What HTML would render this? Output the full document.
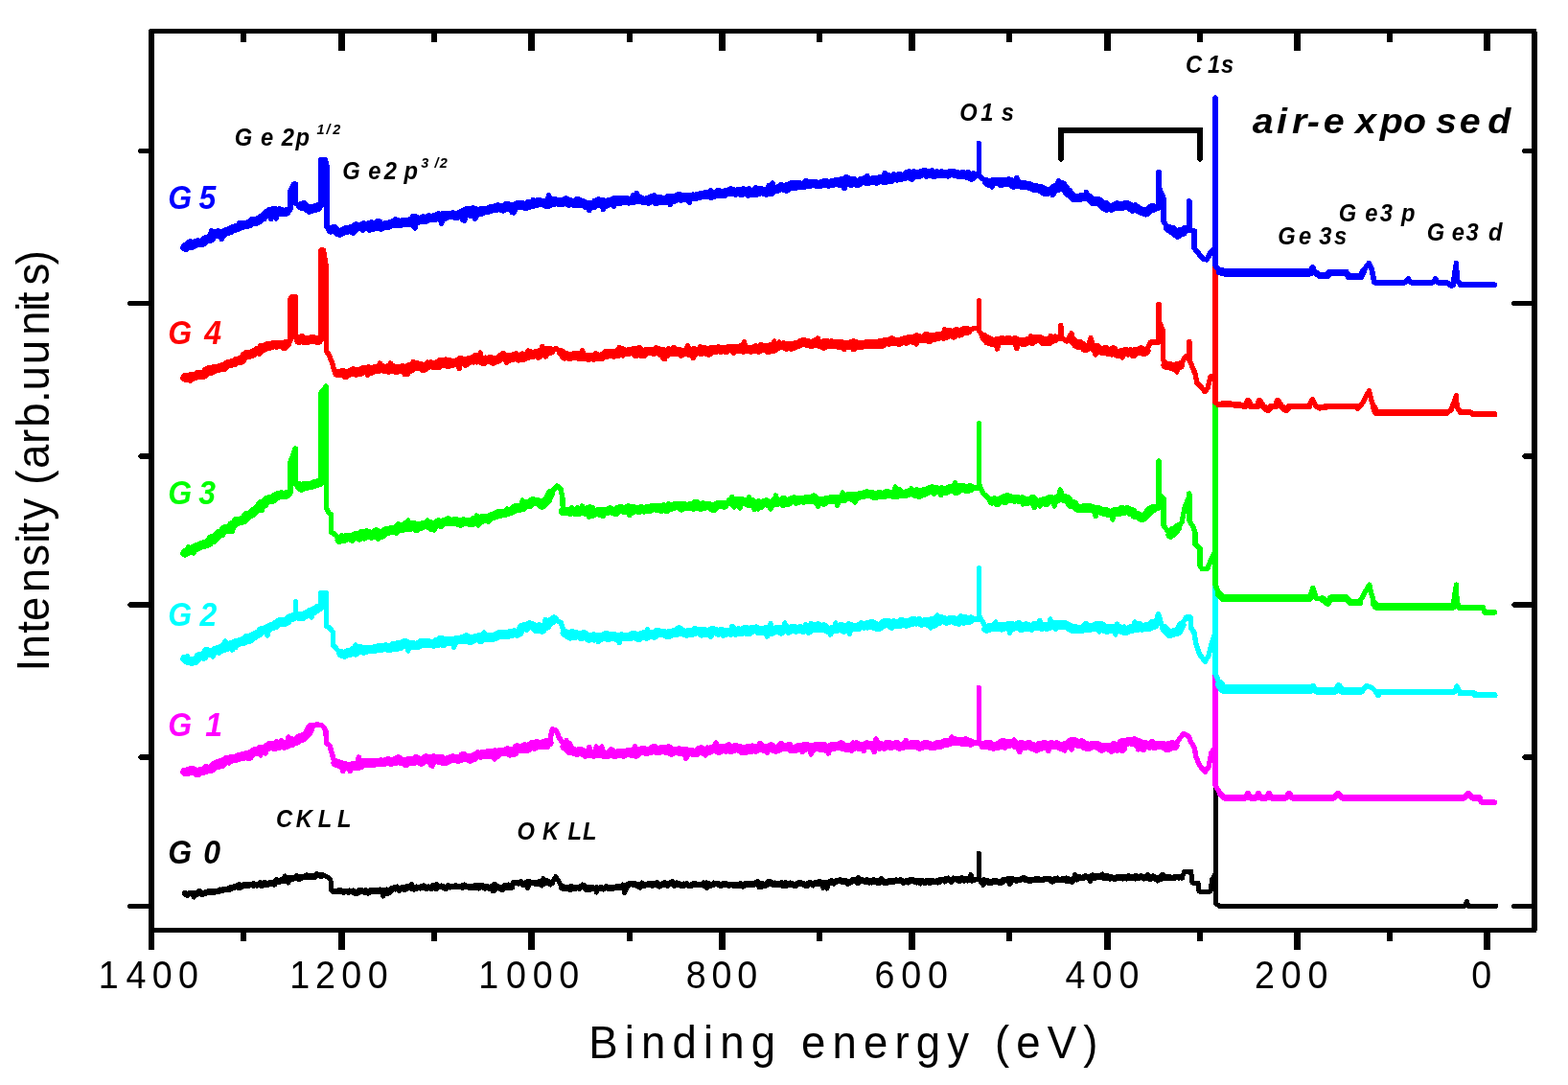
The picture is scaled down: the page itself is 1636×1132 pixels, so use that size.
<!DOCTYPE html>
<html><head><meta charset="utf-8"><title>XPS survey spectra</title>
<style>html,body{margin:0;padding:0;background:#fff;}svg{display:block;}</style>
</head><body>
<svg width="1636" height="1132" viewBox="0 0 1636 1132" shape-rendering="crispEdges">
<rect width="1636" height="1132" fill="#fff"/>
<polyline points="193.0,932.1 194.8,933.0 196.6,933.5 198.5,932.0 200.3,932.5 202.1,936.0 203.9,931.5 205.7,932.0 207.5,931.0 209.4,931.0 211.2,932.5 213.0,932.0 214.8,932.0 216.7,930.5 218.5,931.5 220.3,930.5 222.1,930.0 224.0,931.5 225.8,930.0 227.6,930.5 229.5,928.0 231.3,928.5 233.2,929.0 235.0,927.5 236.8,927.5 238.7,926.5 240.5,926.0 242.4,927.0 244.2,925.7 246.0,925.0 247.9,925.0 249.7,922.5 251.5,926.0 253.3,925.0 255.2,922.5 257.0,922.0 258.8,923.5 260.7,923.0 262.5,923.0 264.3,924.5 266.2,922.5 268.0,924.0 269.9,922.0 271.7,920.5 273.5,921.5 275.4,923.0 277.2,921.5 279.1,923.5 280.9,921.7 282.7,920.5 284.6,921.0 286.4,921.0 288.2,920.5 290.0,921.0 291.9,919.0 293.7,919.0 295.5,918.5 297.4,914.0 299.2,917.1 301.0,921.0 302.9,916.5 304.7,917.0 306.5,915.5 308.4,914.5 310.2,917.0 312.0,915.0 313.8,914.5 315.7,915.5 317.5,914.8 319.3,915.5 321.2,914.5 323.0,915.5 324.9,915.0 326.7,914.0 328.5,913.5 330.4,912.0 332.2,912.0 334.1,914.5 335.9,913.4 340.0,914.0 343.5,916.0 345.0,918.5 345.0,928.0 348.0,930.0 349.9,931.0 351.7,930.0 353.6,930.5 355.4,928.5 357.3,930.0 359.1,931.0 361.0,929.5 362.9,930.0 364.7,929.0 366.6,930.5 368.4,929.0 370.3,930.0 372.1,931.0 374.0,928.5 375.8,929.0 377.7,930.0 379.6,931.0 381.4,928.5 383.3,930.0 385.1,929.5 387.0,930.0 388.8,930.5 390.7,928.5 392.5,930.5 394.4,930.0 396.3,928.0 398.1,930.5 400.0,935.0 401.8,929.0 403.7,928.0 405.5,929.5 407.4,930.0 409.0,927.2 410.8,927.0 412.7,928.0 414.5,925.0 416.4,928.5 418.2,926.5 420.1,928.0 421.9,928.5 423.8,928.0 425.6,924.5 427.5,926.0 429.3,922.5 431.2,926.5 433.0,927.5 434.9,925.0 436.7,926.0 438.6,927.0 440.4,926.0 442.3,926.5 444.1,925.0 446.0,926.5 447.8,927.0 449.7,925.5 451.5,927.0 453.4,926.0 455.2,922.5 457.1,925.5 458.9,924.5 460.8,924.0 462.6,925.0 464.5,925.5 466.3,926.0 468.2,924.0 470.0,925.3 471.8,924.5 473.7,924.5 475.5,924.5 477.3,924.0 479.1,925.5 481.0,924.5 482.8,923.5 484.6,923.0 486.5,924.5 488.3,926.0 490.1,926.0 491.9,926.5 493.8,926.0 495.6,926.0 497.4,926.5 499.3,927.0 501.1,923.5 502.9,924.5 504.7,926.0 506.6,926.0 508.4,926.0 510.2,925.5 512.1,926.0 513.9,929.5 515.7,929.5 517.5,926.0 519.4,925.0 521.2,925.5 523.0,925.0 524.9,926.0 526.7,927.0 528.5,924.0 530.3,923.0 532.2,924.0 534.0,925.3 536.0,921.0 537.8,921.0 539.6,921.0 541.5,920.5 543.3,921.5 545.1,921.0 546.9,921.0 548.7,922.0 550.5,926.5 552.4,922.0 554.2,922.0 556.0,921.0 557.8,921.5 559.6,920.5 561.5,922.5 563.3,921.5 565.1,924.0 566.9,916.5 568.7,922.0 570.5,920.0 572.4,920.0 574.2,923.0 576.0,921.0 580.0,914.5 583.7,921.0 586.0,926.2 587.8,924.5 589.6,926.5 591.5,927.0 593.3,928.0 595.1,928.5 596.9,927.5 598.8,926.5 600.6,927.5 602.4,926.5 604.2,927.5 606.0,926.0 607.9,923.0 609.7,926.0 611.5,928.5 613.3,926.5 615.1,928.5 617.0,927.0 618.8,926.0 620.6,926.5 622.4,931.0 624.3,927.5 626.1,925.5 627.9,926.5 629.7,928.0 631.5,925.5 633.4,926.5 635.2,925.0 637.0,925.5 638.8,926.0 640.6,927.0 642.5,925.0 644.3,926.0 646.1,925.0 647.9,924.5 649.8,923.0 651.6,931.5 653.4,926.2 655.0,923.0 656.8,922.0 658.7,923.0 660.5,923.0 662.4,923.0 664.2,924.0 666.0,923.5 667.9,922.5 669.7,921.0 671.5,923.5 673.4,923.0 675.2,922.5 677.1,923.0 678.9,922.5 680.7,924.5 682.6,923.5 684.4,922.5 686.3,924.5 688.1,924.0 689.9,924.0 691.8,923.5 693.6,923.5 695.4,923.0 697.3,924.0 699.1,922.0 701.0,922.5 702.8,923.0 704.6,923.5 706.5,924.0 708.3,923.0 710.2,923.5 712.0,923.0 713.8,922.0 715.7,924.0 717.5,923.5 719.3,923.5 721.2,922.5 723.0,923.5 724.9,921.5 726.7,923.0 728.5,924.0 730.3,923.5 732.1,923.5 733.9,921.0 735.7,924.5 737.5,926.5 739.3,921.5 741.1,924.5 742.9,923.0 744.7,921.0 746.5,922.5 748.4,922.0 750.2,922.5 752.0,923.5 753.8,923.0 755.6,923.5 757.4,924.0 759.2,922.5 761.0,924.5 762.8,923.0 764.6,924.0 766.4,922.5 768.2,924.0 770.0,923.4 771.8,924.5 773.6,923.0 775.5,922.0 777.3,922.0 779.1,923.5 780.9,924.0 782.7,923.5 784.5,922.0 786.4,923.5 788.2,922.5 790.0,923.0 791.8,922.5 793.6,924.0 795.5,925.0 797.3,923.0 799.1,923.0 800.9,923.5 802.7,922.0 804.5,922.5 806.4,923.0 808.2,921.0 810.0,921.5 811.8,923.5 813.6,923.5 815.5,920.5 817.3,922.5 819.1,920.5 820.9,924.5 822.7,923.5 824.5,921.0 826.4,922.5 828.2,924.0 830.0,924.5 831.8,921.5 833.6,920.5 835.5,922.0 837.3,922.0 839.1,923.5 840.9,922.5 842.7,921.0 844.5,921.5 846.4,921.0 848.2,924.0 850.0,922.0 851.8,921.5 853.6,921.5 855.5,922.5 857.3,920.5 859.1,926.5 860.9,921.5 862.7,927.0 864.5,922.0 866.4,922.0 868.2,920.0 870.0,921.4 872.0,919.6 873.8,919.5 875.6,919.5 877.4,919.5 879.2,920.5 881.0,920.0 882.8,920.0 884.6,920.5 886.4,920.5 888.2,920.5 890.0,917.5 891.8,920.0 893.6,920.0 895.4,915.5 897.2,919.5 899.0,918.0 900.8,920.0 902.6,920.0 904.4,920.0 906.2,918.5 908.0,919.5 909.8,921.0 911.6,917.5 913.4,920.0 915.2,920.0 917.0,918.0 918.8,919.0 920.6,919.0 922.4,921.5 924.2,920.0 926.0,921.0 927.8,919.5 929.6,918.5 931.4,919.0 933.2,919.0 935.0,919.5 936.8,919.5 938.6,919.0 940.4,919.0 942.2,921.0 944.0,920.0 945.8,919.0 947.6,921.0 949.4,920.0 951.2,919.5 953.0,919.5 954.8,918.5 956.6,921.0 958.4,918.5 960.2,922.0 962.0,919.5 963.8,920.0 965.6,920.0 967.4,920.0 969.2,918.5 971.0,920.0 972.8,920.5 974.6,919.0 976.4,919.5 978.2,921.0 980.0,919.6 982.0,917.8 983.8,918.5 985.7,920.0 987.5,917.5 989.3,916.0 991.1,918.5 993.0,918.0 994.8,916.0 996.6,917.5 998.4,918.5 1000.3,917.0 1002.1,918.0 1003.9,918.5 1005.7,917.5 1007.6,918.0 1009.4,919.0 1011.2,917.5 1013.0,912.5 1014.9,918.0 1016.7,917.8 1021.3,917.8 1021.3,890.0 1021.3,917.8 1024.0,920.0 1025.9,923.5 1027.7,918.0 1029.6,918.5 1031.4,919.0 1033.3,919.0 1035.1,919.0 1037.0,919.0 1038.9,918.5 1040.7,919.0 1042.6,921.5 1044.4,920.0 1046.3,917.5 1048.1,917.0 1050.0,918.0 1051.8,919.0 1053.7,922.5 1055.5,919.0 1057.3,918.5 1059.2,918.5 1061.0,918.0 1062.8,917.5 1064.7,918.5 1066.5,917.0 1068.3,917.5 1070.2,919.0 1072.0,918.0 1073.9,918.0 1075.7,918.0 1077.5,918.0 1079.4,917.0 1081.2,918.0 1083.0,918.0 1084.9,918.0 1086.7,917.5 1088.5,917.0 1090.4,917.5 1092.2,918.0 1094.0,917.5 1095.9,918.0 1097.7,917.5 1099.5,918.5 1101.4,917.5 1103.2,916.0 1105.1,919.0 1106.9,918.5 1108.7,919.0 1110.6,918.5 1112.4,916.0 1114.2,916.5 1116.1,918.0 1117.9,917.5 1119.7,919.0 1121.6,912.5 1123.4,917.3 1125.0,915.4 1126.8,914.5 1128.6,916.0 1130.4,915.0 1132.2,914.5 1134.0,914.5 1135.8,916.5 1137.6,919.5 1139.4,914.0 1141.2,914.0 1143.0,915.0 1144.8,915.5 1146.6,916.0 1148.4,914.5 1150.2,912.0 1152.0,915.5 1153.8,914.0 1155.6,913.5 1157.4,917.0 1159.2,917.0 1161.0,915.5 1162.8,916.5 1164.6,915.5 1166.4,916.5 1168.2,917.0 1170.0,914.5 1171.8,917.0 1173.6,915.0 1175.4,917.0 1177.2,916.0 1179.0,915.0 1180.8,915.5 1182.6,915.5 1184.4,917.0 1186.2,915.0 1188.0,915.5 1189.8,915.0 1191.6,914.0 1193.4,917.0 1195.2,915.5 1197.0,915.0 1198.8,914.0 1200.6,916.5 1202.4,914.5 1204.2,915.0 1206.0,916.0 1207.8,919.0 1209.6,917.0 1211.4,917.5 1213.2,914.5 1215.0,915.5 1216.8,916.0 1218.6,915.0 1220.4,915.5 1222.2,915.5 1224.0,915.5 1225.8,914.0 1227.6,915.0 1229.4,916.0 1231.2,916.0 1233.0,915.4 1236.0,909.0 1242.6,909.0 1244.0,921.0 1250.0,921.0 1251.0,930.0 1263.0,930.0 1264.5,918.0 1268.0,912.0 1268.0,800.0 1268.0,942.0 1272.0,945.3 1528.0,945.3 1530.3,940.5 1532.5,945.3 1560.8,945.3" fill="none" stroke="#000000" stroke-width="5.0" stroke-linejoin="round" stroke-linecap="round"/>
<polyline points="193.0,932.1 195.5,933.5 198.0,932.0 200.5,932.5 203.0,932.0 205.5,933.0 208.0,930.0 210.5,933.0 213.0,932.0 215.6,931.0 218.1,930.0 220.7,930.5 223.2,930.5 225.8,930.0 228.4,929.5 231.1,929.0 233.7,928.0 236.3,928.0 238.9,928.0 241.6,926.0 244.2,925.7 246.8,924.5 249.4,926.0 252.0,925.0 254.7,923.0 257.3,924.0 259.9,923.5 262.5,923.0 265.1,922.5 267.8,923.5 270.4,922.5 273.0,924.0 275.6,921.0 278.3,923.0 280.9,921.7 283.5,921.5 286.1,922.5 288.7,918.5 291.4,919.5 294.0,918.0 296.6,919.0 299.2,917.1 301.8,916.0 304.4,917.0 307.0,916.0 309.7,914.5 312.3,916.5 314.9,915.5 317.5,914.8 320.1,913.5 322.8,914.5 325.4,914.0 328.0,915.0 330.6,912.5 333.3,913.0 335.9,913.4" fill="none" stroke="#000000" stroke-width="6.5" stroke-linejoin="round" stroke-linecap="round"/>
<polyline points="348.0,930.0 350.6,930.0 353.2,929.5 355.7,929.5 358.3,930.5 360.9,930.0 363.5,930.5 366.1,930.0 368.7,930.5 371.2,932.0 373.8,931.0 376.4,929.0 379.0,930.0 381.6,930.5 384.2,931.5 386.7,929.0 389.3,929.5 391.9,929.0 394.5,929.5 397.1,929.5 399.7,929.0 402.2,931.5 404.8,931.5 407.4,930.0" fill="none" stroke="#000000" stroke-width="6.5" stroke-linejoin="round" stroke-linecap="round"/>
<polyline points="409.0,927.2 411.5,926.5 414.1,926.5 416.6,928.5 419.2,926.5 421.7,927.0 424.2,925.5 426.8,926.0 429.3,926.5 431.9,927.5 434.4,926.5 437.0,926.0 439.5,925.5 442.0,924.5 444.6,927.0 447.1,925.5 449.7,927.0 452.2,924.0 454.8,927.0 457.3,925.0 459.8,925.0 462.4,925.5 464.9,927.0 467.5,924.5 470.0,925.3 472.6,925.0 475.1,924.5 477.7,925.0 480.2,925.0 482.8,925.5 485.4,925.0 487.9,925.0 490.5,925.0 493.0,926.0 495.6,924.5 498.2,924.0 500.7,925.5 503.3,924.5 505.8,926.5 508.4,925.0 511.0,927.0 513.5,925.0 516.1,923.0 518.6,925.0 521.2,926.0 523.8,928.0 526.3,924.5 528.9,925.5 531.4,926.0 534.0,925.3" fill="none" stroke="#000000" stroke-width="6.5" stroke-linejoin="round" stroke-linecap="round"/>
<polyline points="536.0,921.0 538.5,921.0 541.0,921.5 543.5,920.5 546.0,923.0 548.5,921.5 551.0,920.0 553.5,921.0 556.0,921.0 558.5,921.5 561.0,921.0 563.5,920.0 566.0,920.5 568.5,920.0 571.0,919.5 573.5,921.0 576.0,921.0" fill="none" stroke="#000000" stroke-width="6.5" stroke-linejoin="round" stroke-linecap="round"/>
<polyline points="586.0,926.2 588.6,927.0 591.2,926.0 593.8,927.5 596.4,925.0 599.0,927.0 601.6,926.0 604.1,926.0 606.7,925.0 609.3,924.5 611.9,928.0 614.5,926.5 617.1,926.0 619.7,927.0 622.3,926.5 624.9,927.0 627.5,926.5 630.1,927.0 632.7,925.5 635.3,927.0 637.8,927.0 640.4,926.0 643.0,926.0 645.6,925.0 648.2,926.0 650.8,926.5 653.4,926.2" fill="none" stroke="#000000" stroke-width="6.5" stroke-linejoin="round" stroke-linecap="round"/>
<polyline points="655.0,923.0 657.6,922.0 660.1,922.0 662.7,922.5 665.2,924.0 667.8,925.5 670.4,923.0 672.9,923.5 675.5,923.0 678.0,922.0 680.6,922.0 683.2,922.0 685.7,921.5 688.3,924.5 690.9,923.0 693.4,921.5 696.0,923.5 698.5,922.0 701.1,920.5 703.7,923.5 706.2,921.5 708.8,922.5 711.3,924.0 713.9,923.5 716.5,922.5 719.0,924.0 721.6,923.5 724.1,922.0 726.7,923.0 729.2,923.0 731.8,923.0 734.3,923.5 736.9,921.5 739.4,922.5 742.0,923.5 744.5,922.5 747.1,922.0 749.6,922.5 752.2,924.0 754.7,922.5 757.3,922.5 759.8,923.5 762.4,923.0 764.9,923.0 767.5,924.0 770.0,923.4 772.5,922.5 775.0,924.5 777.5,922.5 780.0,922.0 782.5,922.5 785.0,922.5 787.5,922.0 790.0,920.5 792.5,925.0 795.0,922.0 797.5,924.0 800.0,922.5 802.5,920.0 805.0,921.0 807.5,923.0 810.0,922.0 812.5,923.0 815.0,921.5 817.5,924.0 820.0,922.0 822.5,923.0 825.0,922.0 827.5,923.0 830.0,924.0 832.5,922.0 835.0,921.5 837.5,922.0 840.0,923.5 842.5,923.5 845.0,921.0 847.5,922.5 850.0,921.5 852.5,922.0 855.0,920.0 857.5,922.0 860.0,921.0 862.5,921.5 865.0,921.0 867.5,919.5 870.0,921.4" fill="none" stroke="#000000" stroke-width="6.5" stroke-linejoin="round" stroke-linecap="round"/>
<polyline points="872.0,919.6 874.5,919.0 877.0,918.5 879.5,920.0 882.0,919.0 884.6,921.5 887.1,920.0 889.6,919.0 892.1,918.0 894.6,921.0 897.1,919.5 899.6,918.5 902.1,919.5 904.7,918.5 907.2,920.5 909.7,919.0 912.2,918.5 914.7,920.5 917.2,921.0 919.7,917.5 922.2,920.0 924.7,921.0 927.3,919.5 929.8,919.5 932.3,920.0 934.8,918.5 937.3,919.0 939.8,918.5 942.3,920.5 944.8,919.5 947.3,919.0 949.9,918.5 952.4,918.0 954.9,920.0 957.4,919.5 959.9,919.0 962.4,919.0 964.9,921.0 967.4,919.0 970.0,921.0 972.5,919.0 975.0,920.0 977.5,919.5 980.0,919.6" fill="none" stroke="#000000" stroke-width="6.5" stroke-linejoin="round" stroke-linecap="round"/>
<polyline points="982.0,917.8 984.7,918.0 987.3,917.0 990.0,917.5 992.7,919.5 995.3,917.0 998.0,917.0 1000.7,919.0 1003.4,916.5 1006.0,918.5 1008.7,917.0 1011.4,917.0 1014.0,918.5 1016.7,917.8" fill="none" stroke="#000000" stroke-width="6.5" stroke-linejoin="round" stroke-linecap="round"/>
<polyline points="1024.0,920.0 1026.6,918.5 1029.2,920.0 1031.8,920.5 1034.4,921.0 1037.0,919.0 1039.6,919.5 1042.2,920.0 1044.8,920.5 1047.4,918.5 1050.0,918.0 1052.5,917.0 1055.1,917.0 1057.6,918.0 1060.1,918.5 1062.7,918.0 1065.2,917.5 1067.7,916.0 1070.2,917.0 1072.8,918.5 1075.3,918.5 1077.8,918.0 1080.4,918.0 1082.9,917.0 1085.4,918.0 1088.0,918.0 1090.5,917.0 1093.0,917.0 1095.6,917.5 1098.1,919.5 1100.6,917.0 1103.2,918.0 1105.7,918.0 1108.2,917.5 1110.7,918.0 1113.3,919.0 1115.8,918.0 1118.3,919.5 1120.9,916.0 1123.4,917.3" fill="none" stroke="#000000" stroke-width="6.5" stroke-linejoin="round" stroke-linecap="round"/>
<polyline points="1125.0,915.4 1127.5,916.0 1130.0,916.0 1132.5,914.5 1135.0,915.5 1137.6,915.5 1140.1,913.5 1142.6,915.5 1145.1,914.0 1147.6,914.0 1150.1,915.0 1152.6,916.0 1155.1,915.0 1157.7,915.5 1160.2,915.5 1162.7,917.0 1165.2,915.5 1167.7,915.5 1170.2,916.0 1172.7,915.0 1175.2,915.5 1177.7,914.5 1180.3,916.0 1182.8,915.5 1185.3,914.0 1187.8,916.0 1190.3,914.5 1192.8,916.0 1195.3,916.0 1197.8,913.5 1200.3,917.0 1202.9,914.5 1205.4,916.5 1207.9,916.0 1210.4,916.0 1212.9,913.0 1215.4,916.0 1217.9,915.5 1220.4,915.5 1223.0,916.0 1225.5,915.5 1228.0,915.0 1230.5,915.0 1233.0,915.4" fill="none" stroke="#000000" stroke-width="6.5" stroke-linejoin="round" stroke-linecap="round"/>
<polyline points="193.0,805.4 194.8,805.5 196.6,807.0 198.5,805.5 200.3,805.0 202.1,805.5 203.9,806.0 205.7,806.0 207.6,806.5 209.4,803.5 211.2,804.4 213.0,803.5 214.8,799.5 216.7,801.5 218.5,802.0 220.3,801.5 222.2,801.5 224.0,797.0 225.8,797.1 227.6,795.5 229.5,793.5 231.3,796.5 233.2,794.5 235.0,794.5 236.8,795.0 238.7,796.0 240.5,793.5 242.4,794.0 244.2,791.6 246.0,791.0 247.9,788.0 249.7,789.0 251.5,787.5 253.3,791.5 255.2,788.5 257.0,789.5 258.8,786.5 260.7,784.5 262.5,786.5 264.3,783.0 266.2,785.0 268.0,783.0 269.9,780.0 271.7,788.0 273.5,779.5 275.4,783.5 277.2,786.0 279.1,777.0 280.9,777.9 282.7,777.0 284.6,780.0 286.4,780.5 288.2,779.0 290.0,776.0 291.9,777.5 293.7,772.5 295.5,778.5 297.4,778.0 299.2,777.3 301.0,769.0 302.9,775.5 304.7,777.5 306.5,773.5 308.4,774.5 310.2,772.5 312.0,772.0 313.8,770.0 315.7,768.5 317.5,768.1 319.7,764.0 321.8,762.0 324.0,759.0 327.0,756.5 331.0,756.0 335.5,756.5 338.0,759.0 340.0,763.0 340.5,775.0 344.0,778.0 346.0,785.0 348.0,792.0 350.0,796.0 352.1,795.0 354.2,797.1 356.0,798.0 357.9,804.5 359.7,798.5 361.6,799.0 363.4,799.9 365.2,804.5 367.1,798.0 368.9,800.0 370.7,800.5 372.5,796.5 374.4,790.0 376.2,797.0 378.0,798.0 379.9,795.5 381.7,795.6 383.5,795.5 385.4,796.5 387.2,795.5 389.0,797.5 390.9,794.5 392.7,795.5 394.5,795.0 396.4,794.5 398.2,794.0 400.0,794.0 401.9,794.0 403.7,796.0 405.6,794.5 407.4,796.0 409.2,796.0 411.1,794.5 412.9,796.5 414.7,795.0 416.6,795.0 418.4,794.4 420.2,794.0 422.1,795.0 423.9,795.0 425.7,792.0 427.5,794.5 429.4,796.0 431.2,792.5 433.0,792.5 434.9,793.5 436.7,795.0 438.5,794.5 440.4,793.0 442.2,791.0 444.0,792.0 445.9,792.0 447.7,795.0 449.5,798.0 451.3,799.0 453.2,792.5 455.0,792.0 456.9,790.0 458.8,793.5 460.6,791.5 462.5,792.5 464.4,794.0 466.2,794.0 468.1,793.5 470.0,791.7 471.8,791.5 473.7,793.5 475.5,791.0 477.3,791.5 479.1,792.5 481.0,792.0 482.8,792.0 484.6,790.0 486.5,792.5 488.3,790.8 490.1,788.5 492.0,789.0 493.8,791.0 495.7,792.0 497.5,789.0 499.3,788.0 501.2,790.0 503.0,787.0 504.9,788.0 506.7,787.1 508.5,789.0 510.4,786.5 512.2,789.5 514.0,785.5 515.9,792.0 517.7,788.0 519.5,784.5 521.4,783.5 523.2,785.0 525.0,783.5 526.9,786.5 528.7,783.5 530.5,782.5 532.4,782.5 534.2,783.8 536.0,784.5 537.9,784.5 539.7,782.0 541.5,783.0 543.4,781.5 545.2,781.5 547.0,781.5 548.8,779.0 550.7,779.5 552.5,778.9 554.3,780.5 556.2,775.0 558.0,779.0 559.9,779.0 561.7,778.0 563.6,778.0 565.4,777.0 567.3,773.5 569.2,779.0 571.1,779.5 573.0,775.0 576.4,760.6 580.0,762.0 583.7,770.0 589.2,778.9 591.0,772.5 592.9,781.0 594.7,776.0 596.5,782.5 598.3,782.5 600.2,783.0 602.0,785.3 603.8,785.0 605.7,786.0 607.5,786.0 609.4,786.0 611.2,787.0 613.0,784.0 614.9,779.5 616.7,786.2 618.5,787.0 620.4,787.0 622.2,779.0 624.0,787.0 625.9,786.5 627.7,779.0 629.5,787.5 631.4,785.5 633.2,789.0 635.0,787.0 636.9,788.0 638.7,784.0 640.6,787.5 642.4,785.5 644.2,784.0 646.1,787.0 647.9,787.0 649.7,784.5 651.6,786.5 653.4,785.6 655.2,786.5 657.1,785.0 658.9,787.0 660.7,783.5 662.5,779.0 664.4,785.5 666.2,783.0 668.0,785.5 669.9,784.0 671.7,784.0 673.5,784.5 675.4,784.0 677.2,781.5 679.0,782.5 680.9,782.0 682.7,783.5 684.5,781.5 686.3,781.5 688.2,783.5 690.0,782.0 691.8,780.5 693.7,781.0 695.5,781.5 697.3,781.0 699.2,784.0 701.0,783.0 702.8,782.5 704.7,783.5 706.5,783.5 708.4,786.0 710.2,784.0 712.0,784.5 713.9,785.5 715.7,791.5 717.5,785.5 719.4,787.0 721.2,785.5 723.0,784.0 724.9,783.5 726.7,785.6 728.5,785.5 730.4,785.5 732.2,784.0 734.0,782.5 735.9,788.0 737.7,780.0 739.5,781.5 741.3,781.0 743.2,781.0 745.0,781.0 746.9,775.0 748.8,778.5 750.8,782.5 752.7,783.0 754.6,783.0 756.5,780.5 758.5,778.0 760.4,780.5 762.3,781.5 764.2,780.5 766.2,783.5 768.1,779.0 770.0,781.0 771.9,783.0 773.8,785.5 775.7,780.5 777.6,783.0 779.5,782.0 781.4,781.5 783.4,780.0 785.3,778.0 787.2,782.5 789.1,782.0 791.0,779.0 792.9,775.5 794.8,782.0 796.7,781.1 798.5,780.5 800.4,785.5 802.2,781.0 804.0,779.5 805.9,781.5 807.7,782.0 809.5,782.0 811.4,782.0 813.2,780.0 815.0,780.0 816.9,778.5 818.7,778.0 820.6,779.0 822.4,779.5 824.2,776.5 826.1,781.5 827.9,782.5 829.7,779.0 831.6,779.5 833.4,779.3 835.2,779.0 837.1,784.5 838.9,778.0 840.7,782.5 842.5,778.0 844.4,779.0 846.2,787.0 848.0,781.5 849.9,780.5 851.7,780.5 853.5,780.5 855.4,779.0 857.2,779.0 859.0,777.0 860.9,777.0 862.7,779.5 864.5,786.0 866.3,780.0 868.2,777.5 870.0,779.3 871.8,777.0 873.7,779.5 875.5,776.5 877.3,780.0 879.2,781.5 881.0,777.5 882.8,778.0 884.7,780.5 886.5,779.0 888.4,777.5 890.2,775.0 892.0,777.5 893.9,778.0 895.7,780.0 897.5,779.0 899.4,778.5 901.2,783.5 903.0,777.5 904.9,779.5 906.7,777.5 908.5,778.0 910.4,778.0 912.2,784.5 914.0,771.0 915.9,778.0 917.7,778.0 919.5,778.5 921.4,777.0 923.2,778.5 925.0,774.5 926.9,778.5 928.7,780.5 930.6,777.0 932.4,779.5 934.2,778.5 936.1,774.5 937.9,776.0 939.7,777.0 941.6,779.0 943.4,777.5 945.2,772.5 947.1,777.0 948.9,776.5 950.7,779.0 952.5,777.0 954.4,777.5 956.2,778.5 958.0,777.5 959.9,776.5 961.7,778.5 963.5,779.5 965.4,775.5 967.2,778.0 969.0,779.0 970.9,776.5 972.7,778.0 974.5,776.5 976.3,779.5 978.2,774.5 980.0,777.5 981.8,775.0 983.7,776.0 985.5,776.5 987.4,775.0 989.2,773.0 991.0,775.0 992.9,769.0 994.7,772.5 996.5,773.0 998.4,774.0 1000.2,775.0 1002.0,772.0 1003.9,776.5 1005.7,772.5 1007.5,773.0 1009.3,776.5 1011.2,776.0 1013.0,775.0 1021.3,775.0 1021.3,717.6 1021.3,775.0 1026.0,777.5 1027.9,778.5 1029.8,777.5 1031.7,777.0 1033.6,775.0 1035.4,776.5 1037.3,777.0 1039.2,776.5 1041.1,778.5 1043.0,776.0 1044.9,773.0 1046.8,779.5 1048.7,780.5 1050.6,778.5 1052.4,776.0 1054.3,777.5 1056.2,776.5 1058.1,772.0 1060.0,777.5 1061.9,780.5 1063.8,784.5 1065.7,778.5 1067.6,777.0 1069.5,778.5 1071.4,777.0 1073.3,779.5 1075.3,777.5 1077.2,777.5 1079.1,777.5 1081.0,780.0 1082.9,778.0 1084.8,780.5 1086.7,778.9 1088.5,780.0 1090.4,777.0 1092.2,779.5 1094.0,783.5 1095.9,779.0 1097.7,779.5 1099.5,779.5 1101.4,778.0 1103.2,778.0 1105.1,779.0 1106.9,778.5 1108.7,777.0 1110.6,783.0 1112.4,775.5 1114.2,775.0 1116.1,777.5 1117.9,782.0 1119.7,776.0 1121.6,773.5 1123.4,775.2 1125.2,776.5 1127.1,775.5 1128.9,775.0 1130.7,774.5 1132.6,778.0 1134.4,775.5 1136.2,776.5 1138.0,779.0 1139.9,778.0 1141.7,777.4 1143.5,778.5 1145.4,778.0 1147.2,780.0 1149.0,778.5 1150.8,777.5 1152.7,780.0 1154.5,781.5 1156.3,781.0 1158.2,779.5 1160.0,782.0 1161.8,775.5 1163.7,778.0 1165.5,777.5 1167.4,778.0 1169.2,774.5 1171.0,783.5 1172.9,782.0 1174.7,773.0 1176.6,771.5 1178.4,773.4 1180.2,774.0 1182.1,772.0 1183.9,774.5 1185.7,775.5 1187.6,782.0 1189.4,773.0 1191.2,778.5 1193.0,782.5 1194.9,779.0 1196.7,777.4 1198.5,778.0 1200.4,778.0 1202.2,778.0 1204.0,780.0 1205.8,779.0 1207.7,776.0 1209.5,777.0 1211.3,776.5 1213.2,780.0 1215.0,778.0 1216.8,778.5 1218.7,775.5 1220.5,780.0 1222.3,778.0 1224.2,779.0 1226.0,778.3 1231.0,770.0 1235.2,765.5 1240.0,768.0 1242.6,774.0 1246.2,780.0 1248.0,790.0 1251.7,798.5 1257.2,805.4 1261.0,800.0 1264.0,785.0 1268.0,780.0 1268.0,620.0 1268.0,819.0 1273.0,828.0 1277.4,832.3 1300.0,832.3 1302.0,828.0 1304.0,832.3 1311.0,832.3 1313.0,828.0 1315.0,832.3 1322.0,832.3 1324.0,828.0 1326.0,832.3 1342.0,832.3 1345.0,828.0 1348.0,832.3 1392.0,832.3 1396.0,828.0 1400.0,832.3 1528.0,832.3 1532.0,828.0 1536.0,832.3 1543.6,832.3 1545.6,837.1 1559.3,837.1" fill="none" stroke="#ff00ff" stroke-width="5.4" stroke-linejoin="round" stroke-linecap="round"/>
<polyline points="193.0,805.4 195.6,805.0 198.2,804.0 200.8,803.5 203.4,805.0 206.0,806.5 208.6,805.0 211.2,804.4 214.1,803.5 217.0,802.5 220.0,802.5 222.9,799.5 225.8,797.1 228.4,798.0 231.1,797.5 233.7,795.0 236.3,792.5 238.9,793.0 241.6,791.5 244.2,791.6 246.8,791.0 249.4,790.0 252.0,789.0 254.7,789.0 257.3,787.5 259.9,789.5 262.5,786.5 265.1,784.0 267.8,784.0 270.4,784.0 273.0,782.0 275.6,782.5 278.3,780.0 280.9,777.9 283.5,778.0 286.1,779.5 288.7,776.0 291.4,778.0 294.0,776.5 296.6,778.0 299.2,777.3 301.8,775.5 304.4,773.0 307.0,774.0 309.7,773.0 312.3,770.0 314.9,770.5 317.5,768.1 320.8,765.5 324.0,759.0" fill="none" stroke="#ff00ff" stroke-width="9.5" stroke-linejoin="round" stroke-linecap="round"/>
<polyline points="350.0,796.0 354.2,797.1 357.3,798.5 360.3,799.0 363.4,799.9 366.0,800.0 368.6,798.5 371.2,799.0 373.9,799.0 376.5,798.5 379.1,795.5 381.7,795.6 384.3,796.5 386.9,795.5 389.6,796.5 392.2,795.5 394.8,795.5 397.4,795.0 400.0,795.5 402.7,794.5 405.3,794.0 407.9,795.0 410.5,794.5 413.2,793.0 415.8,792.0 418.4,794.4 421.0,794.5 423.6,796.5 426.2,793.5 428.9,794.0 431.5,794.5 434.1,792.0 436.7,793.0 439.3,795.0 441.9,793.0 444.5,791.0 447.2,792.0 449.8,792.0 452.4,791.0 455.0,792.0 457.5,793.0 460.0,791.5 462.5,794.5 465.0,794.5 467.5,792.5 470.0,791.7 472.6,791.0 475.2,791.5 477.8,792.0 480.5,791.5 483.1,788.5 485.7,790.0 488.3,790.8 490.9,792.0 493.6,790.0 496.2,789.0 498.8,787.0 501.4,788.0 504.1,786.5 506.7,787.1 509.2,785.5 511.7,785.5 514.2,787.0 516.7,785.0 519.2,787.0 521.7,784.5 524.2,784.5 526.7,784.5 529.2,783.0 531.7,786.0 534.2,783.8 536.8,785.0 539.4,780.0 542.0,781.5 544.7,781.5 547.3,779.0 549.9,781.5 552.5,778.9 555.1,777.0 557.7,779.0 560.2,776.0 562.8,777.5 565.4,777.0 567.9,777.0 570.5,774.5 573.0,775.0" fill="none" stroke="#ff00ff" stroke-width="9.5" stroke-linejoin="round" stroke-linecap="round"/>
<polyline points="589.2,778.9 591.8,780.0 594.3,783.5 596.9,782.5 599.4,784.5 602.0,785.3 604.9,783.5 607.9,784.5 610.8,787.0 613.8,785.5 616.7,786.2 619.3,787.0 621.9,785.5 624.6,786.0 627.2,786.0 629.8,787.0 632.4,787.5 635.0,787.0 637.7,784.0 640.3,787.0 642.9,787.0 645.5,786.0 648.2,785.5 650.8,787.0 653.4,785.6 656.0,784.5 658.6,786.0 661.2,786.0 663.9,787.0 666.5,784.0 669.1,783.0 671.7,782.5 674.3,784.5 676.9,783.5 679.5,783.0 682.2,780.5 684.8,783.0 687.4,783.5 690.0,782.0 692.6,781.5 695.2,783.5 697.9,781.0 700.5,785.0 703.1,783.5 705.7,783.5 708.4,783.0 711.0,784.5 713.6,784.0 716.2,784.0 718.8,784.5 721.5,784.5 724.1,785.5 726.7,785.6 729.3,782.5 731.9,782.0 734.5,784.5 737.2,784.0 739.8,783.5 742.4,781.5 745.0,781.0 747.5,781.0 750.0,783.5 752.5,780.5 755.0,781.0 757.5,782.0 760.0,779.0 762.5,782.5 765.0,781.5 767.5,779.5 770.0,781.0 772.7,781.0 775.3,782.0 778.0,783.5 780.7,780.5 783.4,782.5 786.0,780.5 788.7,782.0 791.4,780.5 794.0,779.0 796.7,781.1 799.3,782.0 801.9,780.5 804.6,779.0 807.2,781.5 809.8,782.0 812.4,781.0 815.0,778.0 817.7,779.5 820.3,779.5 822.9,779.0 825.5,781.5 828.2,781.5 830.8,781.0 833.4,779.3 836.0,780.5 838.6,779.0 841.2,778.5 843.9,779.5 846.5,779.5 849.1,780.0 851.7,778.5 854.3,778.5 856.9,780.5 859.5,778.5 862.2,781.5 864.8,780.5 867.4,779.0 870.0,779.3 872.6,778.5 875.2,778.5 877.9,777.0 880.5,779.0 883.1,780.5 885.7,780.0 888.4,781.0 891.0,778.0 893.6,777.0 896.2,779.5 898.8,779.0 901.5,778.5 904.1,777.0 906.7,777.5 909.3,777.5 911.9,779.5 914.6,776.0 917.2,779.0 919.8,778.0 922.4,779.0 925.0,777.0 927.7,776.5 930.3,778.0 932.9,777.5 935.5,776.5 938.2,779.0 940.8,778.5 943.4,777.5 946.0,777.0 948.6,777.5 951.2,777.0 953.9,777.0 956.5,776.5 959.1,779.0 961.7,778.5 964.3,777.0 966.9,777.0 969.5,777.5 972.2,778.5 974.8,778.5 977.4,777.0 980.0,777.5 982.9,776.5 985.9,775.0 988.8,775.0 991.8,774.0 994.7,772.5 997.3,773.5 999.9,773.5 1002.5,773.5 1005.2,774.5 1007.8,773.0 1010.4,774.5 1013.0,775.0" fill="none" stroke="#ff00ff" stroke-width="9.5" stroke-linejoin="round" stroke-linecap="round"/>
<polyline points="1026.0,777.5 1028.6,777.0 1031.2,776.5 1033.8,778.5 1036.5,779.0 1039.1,778.5 1041.7,778.0 1044.3,775.5 1046.9,775.0 1049.5,775.5 1052.2,776.5 1054.8,775.5 1057.4,775.0 1060.0,777.5 1062.7,778.5 1065.3,776.5 1068.0,778.5 1070.7,778.0 1073.3,776.5 1076.0,779.0 1078.7,779.0 1081.4,781.0 1084.0,778.0 1086.7,778.9 1089.3,776.5 1091.9,778.5 1094.6,777.5 1097.2,777.0 1099.8,777.5 1102.4,777.0 1105.1,778.5 1107.7,779.5 1110.3,778.0 1112.9,778.0 1115.5,776.0 1118.2,773.5 1120.8,773.5 1123.4,775.2 1126.0,776.5 1128.6,775.0 1131.2,778.5 1133.9,779.0 1136.5,779.0 1139.1,777.5 1141.7,777.4 1144.3,777.5 1146.9,779.0 1149.5,781.0 1152.2,779.5 1154.8,779.5 1157.4,780.0 1160.0,782.0 1162.6,778.5 1165.3,781.0 1167.9,779.0 1170.5,775.0 1173.1,774.5 1175.8,774.5 1178.4,773.4 1181.0,774.0 1183.6,773.0 1186.2,776.0 1188.9,776.0 1191.5,777.5 1194.1,776.5 1196.7,777.4 1199.3,778.0 1201.9,776.0 1204.5,778.5 1207.2,777.5 1209.8,777.5 1212.4,777.5 1215.0,778.0 1217.8,780.5 1220.5,779.5 1223.2,777.0 1226.0,778.3" fill="none" stroke="#ff00ff" stroke-width="9.5" stroke-linejoin="round" stroke-linecap="round"/>
<polyline points="1273.0,828.0 1277.4,832.3 1300.0,832.3 1302.0,828.0 1304.0,832.3 1311.0,832.3 1313.0,828.0 1315.0,832.3 1322.0,832.3 1324.0,828.0 1326.0,832.3 1342.0,832.3 1345.0,828.0 1348.0,832.3 1392.0,832.3 1396.0,828.0 1400.0,832.3 1528.0,832.3 1532.0,828.0 1536.0,832.3 1543.6,832.3" fill="none" stroke="#ff00ff" stroke-width="6.4" stroke-linejoin="round" stroke-linecap="round"/>
<polyline points="193.0,687.3 195.4,685.0 197.8,689.0 200.2,690.0 202.0,690.0 203.8,690.0 205.7,687.0 207.5,685.0 209.3,684.5 211.2,684.0 213.0,682.0 214.8,679.5 216.7,680.5 218.5,683.5 220.3,679.0 222.1,685.0 224.0,677.5 225.8,678.1 227.6,679.0 229.5,674.5 231.3,676.0 233.2,673.0 235.0,669.0 236.8,677.5 238.7,675.5 240.5,671.5 242.4,678.0 244.2,671.7 246.0,675.5 247.9,670.0 249.7,669.5 251.5,668.0 253.3,667.5 255.2,666.0 257.0,666.5 258.8,667.0 260.7,663.5 262.5,664.8 264.3,663.0 266.2,660.5 268.0,659.5 269.9,659.5 271.7,661.0 273.5,660.0 275.4,657.5 277.2,656.0 279.1,663.0 280.9,654.7 282.7,652.5 284.5,654.5 286.4,650.0 288.2,651.5 290.0,650.0 291.8,649.0 293.7,648.0 295.5,648.5 297.4,649.0 299.2,648.3 302.0,645.0 305.5,644.0 308.3,644.0 308.3,627.8 308.3,641.0 311.0,643.0 313.4,641.5 315.7,643.3 317.5,642.5 319.4,642.5 321.2,641.0 323.0,640.5 324.9,644.0 326.7,637.8 328.9,635.0 331.0,635.0 335.0,635.0 335.0,618.6 340.3,618.6 340.3,653.0 345.0,656.0 347.5,660.0 347.5,673.0 353.0,679.0 356.0,682.0 357.9,681.0 359.7,683.0 361.5,683.5 363.4,680.3 365.2,681.0 367.1,681.0 368.9,679.0 370.7,673.0 372.5,677.0 374.4,680.5 376.2,676.5 378.0,675.5 379.9,678.5 381.7,678.1 383.5,676.5 385.4,677.0 387.2,678.5 389.0,678.5 390.9,679.5 392.7,675.0 394.5,673.5 396.3,677.5 398.2,676.5 400.0,675.7 401.8,674.5 403.7,673.5 405.5,674.5 407.4,678.0 409.2,676.0 411.0,676.5 412.9,677.0 414.7,672.5 416.6,672.5 418.4,673.9 420.2,671.0 422.1,673.0 423.9,671.5 425.7,679.0 427.5,672.5 429.4,674.0 431.2,673.0 433.0,672.5 434.9,673.0 436.7,671.5 438.5,670.0 440.4,672.0 442.2,671.0 444.0,671.0 445.9,669.5 447.7,671.0 449.5,669.5 451.3,670.0 453.2,669.5 455.0,669.9 456.9,673.0 458.8,670.0 460.6,670.5 462.5,667.0 464.4,672.0 466.2,670.5 468.1,670.0 470.0,669.0 471.8,667.0 473.7,675.5 475.5,665.5 477.4,669.5 479.2,667.4 481.0,668.0 482.9,666.0 484.7,665.0 486.5,667.5 488.4,668.0 490.2,666.5 492.0,664.5 493.9,666.0 495.7,665.0 497.5,664.5 499.4,662.5 501.2,667.5 503.0,664.5 504.9,660.0 506.7,665.2 508.5,663.5 510.4,662.5 512.2,663.0 514.0,662.5 515.9,665.5 517.7,665.0 519.5,665.5 521.4,663.5 523.2,663.5 525.0,661.5 526.9,663.5 528.7,662.5 530.5,664.5 532.4,661.0 534.2,661.0 536.0,659.0 537.9,660.5 539.7,659.0 541.5,659.0 543.4,657.5 545.2,654.0 547.1,655.0 548.9,655.0 550.7,653.5 552.6,653.0 554.4,652.4 556.2,655.5 558.1,655.5 559.9,657.0 561.7,654.0 563.6,653.5 565.4,657.0 567.2,656.0 569.1,646.5 570.9,654.0 572.7,652.0 574.5,647.0 576.4,648.0 578.2,646.0 585.5,650.0 587.0,655.0 589.2,660.6 591.0,660.5 592.9,661.5 594.7,666.0 596.5,664.5 598.4,659.0 600.2,663.5 602.0,661.0 603.9,661.0 605.7,664.5 607.5,665.5 609.4,663.5 611.2,663.5 613.0,662.0 614.9,664.5 616.7,664.7 618.5,665.0 620.4,668.0 622.2,663.5 624.0,669.5 625.9,667.0 627.7,665.0 629.5,664.5 631.4,664.0 633.2,664.0 635.0,664.5 636.9,665.0 638.7,664.5 640.6,665.5 642.4,663.0 644.2,665.0 646.1,670.5 647.9,664.0 649.7,665.0 651.6,665.5 653.4,664.7 655.2,665.0 657.1,666.5 658.9,666.0 660.7,663.5 662.5,663.5 664.4,663.0 666.2,664.0 668.0,663.0 669.9,662.5 671.7,664.5 673.5,662.5 675.4,656.5 677.2,662.5 679.0,660.0 680.9,660.0 682.7,662.5 684.5,658.0 686.3,663.0 688.2,661.0 690.0,660.6 691.8,661.0 693.7,660.0 695.5,660.0 697.3,659.0 699.2,660.0 701.0,660.5 702.8,658.0 704.7,657.0 706.5,662.5 708.4,659.5 710.2,659.5 712.0,659.5 713.9,660.5 715.7,658.5 717.5,661.5 719.4,657.5 721.2,659.5 723.0,658.0 724.9,655.5 726.7,658.8 728.6,658.0 730.4,658.0 732.2,657.5 734.1,661.0 736.0,658.0 737.8,659.5 739.6,660.5 741.5,664.5 743.4,661.0 745.2,658.5 747.1,660.5 748.9,659.0 750.8,660.0 752.6,659.0 754.5,658.0 756.3,658.0 758.1,660.0 760.0,659.5 761.8,659.5 763.7,653.5 765.5,655.0 767.3,656.0 769.2,659.5 771.0,659.0 772.8,658.0 774.7,657.0 776.5,660.0 778.4,661.5 780.2,660.5 782.0,661.5 783.9,659.0 785.7,659.0 787.5,656.5 789.4,654.0 791.2,658.5 793.0,656.0 794.9,659.5 796.7,658.0 798.5,658.5 800.4,664.0 802.2,658.0 804.0,650.5 805.9,658.0 807.7,658.0 809.5,658.5 811.4,658.5 813.2,659.0 815.0,658.5 816.9,659.0 818.7,650.0 820.6,657.5 822.4,656.0 824.2,657.5 826.1,656.5 827.9,656.0 829.7,658.0 831.6,654.5 833.4,656.2 835.2,655.5 837.1,659.0 838.9,654.5 840.7,652.0 842.5,653.0 844.4,657.0 846.2,650.5 848.0,653.0 849.9,653.0 851.7,657.5 853.5,650.5 855.4,657.0 857.2,654.5 859.0,656.5 860.9,658.0 862.7,658.0 864.5,655.5 866.3,662.0 868.2,659.0 870.0,656.2 871.8,650.0 873.7,658.0 875.5,656.0 877.3,656.5 879.2,656.5 881.0,655.0 882.8,655.5 884.7,653.5 886.5,661.5 888.4,652.5 890.2,655.5 892.0,654.5 893.9,654.0 895.7,651.5 897.5,653.5 899.4,653.0 901.2,651.5 903.0,653.0 904.9,655.0 906.7,652.5 908.5,652.5 910.4,654.0 912.2,655.5 914.0,653.5 915.9,651.5 917.7,652.0 919.5,651.5 921.4,652.0 923.2,651.5 925.0,650.0 926.9,652.0 928.7,651.5 930.6,652.0 932.4,652.5 934.2,652.5 936.1,652.0 937.9,651.5 939.7,649.5 941.6,651.0 943.4,650.7 945.2,653.0 947.1,647.5 948.9,650.0 950.7,650.5 952.5,651.5 954.4,650.0 956.2,651.0 958.0,648.5 959.9,650.5 961.7,647.5 963.5,649.5 965.4,651.5 967.2,652.0 969.0,646.5 970.9,655.0 972.7,648.5 974.5,647.5 976.3,646.5 978.2,642.0 980.0,648.3 981.8,648.0 983.7,648.0 985.5,647.5 987.3,647.5 989.2,645.5 991.0,648.0 992.8,646.5 994.7,647.5 996.5,648.5 998.3,647.5 1000.2,649.5 1002.0,647.0 1003.8,646.0 1005.7,646.5 1007.5,647.0 1009.3,646.0 1011.2,646.5 1013.0,646.1 1021.3,646.0 1021.3,593.0 1021.3,642.0 1026.0,650.0 1029.0,656.0 1031.0,654.0 1033.0,654.5 1035.0,654.4 1036.9,655.0 1038.8,649.0 1040.6,655.5 1042.5,653.5 1044.4,655.5 1046.2,651.5 1048.1,652.5 1050.0,653.6 1051.8,653.0 1053.7,660.5 1055.5,653.0 1057.3,653.5 1059.2,654.0 1061.0,653.5 1062.8,649.5 1064.6,654.0 1066.5,655.0 1068.3,653.6 1070.1,656.5 1072.0,654.5 1073.8,654.0 1075.7,653.5 1077.5,654.0 1079.3,654.0 1081.2,651.0 1083.0,654.0 1084.9,647.5 1086.7,654.2 1088.5,655.0 1090.4,653.5 1092.2,652.0 1094.0,655.0 1095.8,646.0 1097.7,651.5 1099.5,653.5 1101.3,656.5 1103.2,652.0 1105.0,651.4 1106.8,651.0 1108.7,649.5 1110.5,654.5 1112.3,654.5 1114.2,654.0 1116.0,656.0 1117.8,654.5 1119.7,656.0 1121.5,655.0 1123.3,655.0 1125.2,655.5 1127.0,656.4 1128.8,658.0 1130.7,656.5 1132.5,655.0 1134.3,655.0 1136.2,656.0 1138.0,656.0 1139.9,652.5 1141.7,654.2 1143.5,654.0 1145.4,656.0 1147.2,659.0 1149.0,650.5 1150.8,656.5 1152.7,654.5 1154.5,654.0 1156.3,656.0 1158.2,653.5 1160.0,656.4 1161.8,656.0 1163.7,662.0 1165.5,651.0 1167.4,658.0 1169.2,656.0 1171.0,657.0 1172.9,654.0 1174.7,660.5 1176.6,658.5 1178.4,656.4 1180.2,658.5 1182.1,658.0 1183.9,649.0 1185.7,656.5 1187.6,654.5 1189.4,655.0 1191.2,655.0 1193.0,654.5 1194.9,652.0 1196.7,654.2 1198.8,653.0 1200.8,652.0 1202.9,651.5 1205.0,652.0 1208.6,640.5 1212.0,652.0 1215.0,656.0 1216.8,658.5 1218.7,657.5 1220.5,661.5 1222.3,659.0 1224.2,661.0 1226.0,659.7 1228.3,659.5 1230.7,653.5 1233.0,652.0 1237.5,644.0 1242.0,644.0 1242.6,655.0 1246.0,660.0 1248.0,672.0 1251.7,682.6 1257.2,690.3 1261.0,684.0 1264.0,672.0 1268.0,660.0 1268.0,500.0 1268.0,703.0 1273.0,714.0 1276.0,718.9 1367.6,718.9 1370.0,715.5 1373.5,720.9 1393.0,720.9 1397.0,716.0 1400.0,720.9 1420.0,720.9 1426.3,715.5 1432.0,718.0 1436.0,721.8 1438.0,725.0 1440.0,721.8 1518.2,721.8 1520.0,716.0 1524.0,723.2 1537.7,723.2 1539.7,725.2 1559.3,725.2" fill="none" stroke="#00ffff" stroke-width="5.4" stroke-linejoin="round" stroke-linecap="round"/>
<polyline points="193.0,687.3 196.6,689.5 200.2,690.0 203.8,689.5 207.5,685.0 210.1,684.5 212.7,685.0 215.3,679.5 218.0,681.0 220.6,681.5 223.2,679.5 225.8,678.1 228.4,679.0 231.1,676.0 233.7,676.5 236.3,673.0 238.9,674.5 241.6,672.5 244.2,671.7 246.8,670.5 249.4,670.0 252.0,669.0 254.7,669.0 257.3,666.0 259.9,667.5 262.5,664.8 265.1,663.5 267.8,662.0 270.4,660.5 273.0,657.5 275.6,657.5 278.3,656.0 280.9,654.7 283.9,653.5 287.0,652.5 290.0,650.0 293.1,648.5 296.1,649.5 299.2,648.3 302.0,645.0 305.5,644.0" fill="none" stroke="#00ffff" stroke-width="9.5" stroke-linejoin="round" stroke-linecap="round"/>
<polyline points="311.0,643.0 315.7,643.3 318.4,641.5 321.2,640.0 323.9,638.5 326.7,637.8 331.0,635.0" fill="none" stroke="#00ffff" stroke-width="9.5" stroke-linejoin="round" stroke-linecap="round"/>
<polyline points="356.0,682.0 359.7,683.0 363.4,680.3 366.0,681.0 368.6,678.5 371.2,681.0 373.9,676.5 376.5,677.0 379.1,679.0 381.7,678.1 384.3,677.5 386.9,677.5 389.5,677.5 392.2,676.5 394.8,676.0 397.4,676.0 400.0,675.7 402.6,675.0 405.3,676.5 407.9,676.0 410.5,673.5 413.1,675.5 415.8,672.5 418.4,673.9 421.0,671.0 423.6,671.0 426.2,673.0 428.9,673.0 431.5,673.0 434.1,673.5 436.7,673.0 439.3,670.5 441.9,671.0 444.5,671.0 447.2,671.0 449.8,671.5 452.4,672.0 455.0,669.9 457.5,671.0 460.0,667.5 462.5,671.5 465.0,669.0 467.5,669.0 470.0,669.0 473.1,670.0 476.1,668.0 479.2,667.4 481.7,667.0 484.2,667.0 486.7,665.0 489.2,668.0 491.7,668.0 494.2,666.5 496.7,665.5 499.2,665.5 501.7,667.5 504.2,664.0 506.7,665.2 509.2,665.0 511.7,665.5 514.2,665.0 516.7,664.5 519.2,662.5 521.7,661.5 524.2,662.5 526.7,662.0 529.2,662.5 531.7,661.0 534.2,661.0 536.7,660.0 539.2,661.0 541.8,660.0 544.3,654.5 546.8,654.0 549.4,655.0 551.9,652.0 554.4,652.4 557.1,654.0 559.9,656.5 562.6,654.0 565.4,657.0 568.0,654.0 570.5,653.0 573.1,649.0 575.6,648.0 578.2,646.0" fill="none" stroke="#00ffff" stroke-width="9.5" stroke-linejoin="round" stroke-linecap="round"/>
<polyline points="589.2,660.6 591.7,661.5 594.2,663.5 596.7,661.0 599.2,663.5 601.7,662.0 604.2,662.5 606.7,664.5 609.2,662.0 611.7,663.5 614.2,666.0 616.7,664.7 619.3,664.0 621.9,664.5 624.6,665.0 627.2,665.0 629.8,664.0 632.4,662.5 635.0,665.5 637.7,663.5 640.3,663.5 642.9,665.0 645.5,666.5 648.2,664.0 650.8,664.5 653.4,664.7 656.0,664.5 658.6,663.5 661.2,662.5 663.9,664.0 666.5,665.5 669.1,662.5 671.7,662.0 674.3,664.0 676.9,662.0 679.5,661.5 682.2,663.0 684.8,661.5 687.4,660.0 690.0,660.6 692.6,660.5 695.2,662.0 697.9,662.5 700.5,660.5 703.1,660.0 705.7,659.5 708.4,657.0 711.0,659.5 713.6,660.0 716.2,661.0 718.8,659.5 721.5,660.5 724.1,659.5 726.7,658.8 729.3,658.5 731.8,661.0 734.4,658.5 736.9,660.5 739.5,659.5 742.1,658.0 744.6,658.0 747.2,659.0 749.8,660.0 752.3,658.5 754.9,661.0 757.4,660.0 760.0,659.5 762.6,660.0 765.2,659.5 767.9,660.0 770.5,658.0 773.1,659.5 775.7,657.5 778.4,656.5 781.0,659.0 783.6,657.0 786.2,656.5 788.8,656.5 791.5,658.5 794.1,658.0 796.7,658.0 799.3,656.5 801.9,656.5 804.6,659.5 807.2,658.0 809.8,657.0 812.4,656.5 815.0,659.0 817.7,656.0 820.3,655.5 822.9,658.0 825.5,656.0 828.2,655.5 830.8,657.0 833.4,656.2 836.0,656.0 838.6,657.0 841.2,656.0 843.9,658.0 846.5,656.0 849.1,654.0 851.7,655.5 854.3,653.5 856.9,655.5 859.5,654.0 862.2,656.5 864.8,657.5 867.4,657.0 870.0,656.2 872.6,656.0 875.2,655.5 877.9,653.5 880.5,657.0 883.1,656.5 885.7,653.0 888.4,654.0 891.0,654.5 893.6,654.5 896.2,654.0 898.8,652.0 901.5,653.0 904.1,652.0 906.7,652.5 909.3,650.5 911.9,651.5 914.6,654.0 917.2,654.0 919.8,652.5 922.4,650.0 925.0,650.0 927.7,650.0 930.3,653.0 932.9,650.0 935.5,651.0 938.2,651.5 940.8,648.5 943.4,650.7 946.0,651.0 948.6,650.0 951.2,648.0 953.9,648.0 956.5,648.5 959.1,648.0 961.7,650.0 964.3,649.0 966.9,649.0 969.5,649.5 972.2,647.5 974.8,651.0 977.4,646.0 980.0,648.3 982.5,646.0 985.1,647.0 987.6,648.0 990.2,647.0 992.7,646.5 995.2,647.0 997.8,648.5 1000.3,649.0 1002.8,645.0 1005.4,648.0 1007.9,646.0 1010.5,647.5 1013.0,646.1" fill="none" stroke="#00ffff" stroke-width="9.5" stroke-linejoin="round" stroke-linecap="round"/>
<polyline points="1029.0,656.0 1032.0,655.0 1035.0,654.4 1037.5,654.0 1040.0,654.5 1042.5,654.0 1045.0,655.0 1047.5,654.0 1050.0,653.6 1052.6,652.5 1055.2,652.5 1057.8,654.0 1060.5,653.0 1063.1,652.5 1065.7,655.5 1068.3,653.6 1070.9,653.0 1073.6,654.0 1076.2,655.0 1078.8,653.0 1081.4,653.5 1084.1,652.5 1086.7,654.2 1089.3,653.5 1091.9,654.0 1094.5,653.5 1097.2,651.0 1099.8,651.5 1102.4,652.5 1105.0,651.4 1107.8,652.5 1110.5,651.5 1113.2,653.0 1116.0,654.5 1118.8,656.0 1121.5,655.5 1124.2,656.5 1127.0,656.4 1129.9,656.0 1132.9,653.0 1135.8,655.5 1138.8,654.5 1141.7,654.2 1144.3,652.5 1146.9,656.0 1149.5,653.0 1152.2,656.5 1154.8,657.0 1157.4,656.5 1160.0,656.4 1162.6,655.5 1165.3,657.0 1167.9,655.5 1170.5,657.5 1173.1,658.0 1175.8,658.0 1178.4,656.4 1181.0,655.5 1183.6,655.5 1186.2,655.5 1188.9,653.0 1191.5,655.0 1194.1,654.5 1196.7,654.2 1199.5,654.0 1202.2,650.5 1205.0,652.0" fill="none" stroke="#00ffff" stroke-width="9.5" stroke-linejoin="round" stroke-linecap="round"/>
<polyline points="1215.0,656.0 1217.8,658.5 1220.5,661.5 1223.2,660.5 1226.0,659.7 1229.5,658.5 1233.0,652.0" fill="none" stroke="#00ffff" stroke-width="9.5" stroke-linejoin="round" stroke-linecap="round"/>
<polyline points="1273.0,714.0 1276.0,718.9 1367.6,718.9" fill="none" stroke="#00ffff" stroke-width="9.8" stroke-linejoin="round" stroke-linecap="round"/>
<polyline points="1373.5,720.9 1393.0,720.9 1397.0,716.0 1400.0,720.9 1420.0,720.9" fill="none" stroke="#00ffff" stroke-width="7.5" stroke-linejoin="round" stroke-linecap="round"/>
<polyline points="1436.0,721.8 1438.0,725.0 1440.0,721.8" fill="none" stroke="#00ffff" stroke-width="6.2" stroke-linejoin="round" stroke-linecap="round"/>
<polyline points="1524.0,723.2 1537.7,723.2 1539.7,725.2 1559.3,725.2" fill="none" stroke="#00ffff" stroke-width="6.5" stroke-linejoin="round" stroke-linecap="round"/>
<polyline points="193.0,577.0 194.8,577.5 196.6,570.5 198.4,575.0 200.2,571.0 202.1,577.0 203.9,569.5 205.7,571.5 207.5,570.0 209.3,569.5 211.2,567.5 213.0,565.5 214.8,565.0 216.7,565.0 218.5,561.0 220.3,563.5 222.1,562.0 224.0,561.5 225.8,560.0 227.6,560.0 229.5,557.5 231.3,557.5 233.2,554.0 235.0,551.5 236.8,551.0 238.7,550.5 240.5,548.5 242.4,554.5 244.2,546.8 246.0,544.5 247.9,546.5 249.7,544.5 251.5,544.0 253.3,542.5 255.2,539.5 257.0,538.0 258.8,541.0 260.7,536.0 262.5,536.2 264.3,534.0 266.2,533.0 268.0,528.5 269.9,525.5 271.7,526.5 273.5,532.5 275.4,524.0 277.2,526.0 279.1,522.5 280.9,521.0 282.7,520.0 284.5,521.0 286.4,517.0 288.2,517.5 290.0,517.0 291.8,516.0 293.7,517.0 295.5,516.5 297.4,517.5 299.2,516.0 302.8,515.0 302.8,483.0 308.0,468.0 308.2,468.0 308.2,505.0 312.0,507.0 314.0,507.0 316.0,508.5 318.0,505.5 320.0,507.0 322.0,508.5 324.0,505.5 326.0,504.0 328.0,505.0 330.0,504.5 332.0,504.0 335.0,505.0 335.0,410.0 340.3,403.0 340.3,530.0 343.0,535.0 345.5,537.0 345.5,555.0 350.0,558.0 354.2,563.3 356.0,562.0 357.9,562.0 359.7,560.5 361.5,561.5 363.4,560.0 365.2,560.5 367.0,560.5 368.8,558.0 370.7,557.5 372.5,558.7 374.3,558.5 376.2,557.5 378.0,555.5 379.8,558.5 381.7,559.5 383.5,556.5 385.3,560.0 387.2,558.0 389.0,560.0 390.8,556.0 392.7,555.5 394.5,562.5 396.3,554.5 398.2,555.0 400.0,556.9 401.8,556.5 403.7,554.5 405.5,555.0 407.4,553.5 409.2,554.0 411.0,553.0 412.9,549.5 414.7,554.0 416.6,552.5 418.4,550.8 420.2,552.5 422.1,552.5 423.9,551.0 425.7,543.0 427.5,550.5 429.4,552.0 431.2,550.5 433.0,548.5 434.9,549.0 436.7,549.0 438.5,550.0 440.4,548.5 442.2,547.5 444.0,546.0 445.9,543.0 447.7,549.5 449.5,545.0 451.3,546.0 453.2,553.0 455.0,546.8 456.9,546.0 458.8,545.0 460.6,546.0 462.5,546.0 464.4,545.0 466.2,543.0 468.1,546.0 470.0,544.4 471.8,544.5 473.7,546.5 475.5,544.0 477.3,546.0 479.1,547.0 481.0,545.0 482.8,545.5 484.6,546.5 486.5,546.5 488.3,544.7 490.1,547.5 492.0,544.0 493.8,540.5 495.7,544.5 497.5,538.0 499.3,548.0 501.2,540.0 503.0,538.5 504.9,540.5 506.7,540.7 508.5,538.5 510.4,539.5 512.2,540.0 514.0,537.5 515.9,537.0 517.7,537.0 519.5,536.5 521.3,537.0 523.2,535.5 525.0,535.6 526.8,536.0 528.7,531.0 530.5,535.5 532.4,534.5 534.2,534.5 536.0,531.0 537.9,532.0 539.7,531.5 541.6,529.0 543.4,529.7 545.2,522.0 547.0,527.5 548.9,527.5 550.7,526.0 552.5,525.5 554.4,525.5 556.2,522.5 558.0,523.3 559.9,522.5 561.7,522.5 563.5,525.5 565.4,527.0 567.2,522.0 569.0,521.5 570.9,520.5 572.7,519.5 574.5,514.5 581.0,507.0 585.0,510.0 587.0,520.0 587.4,533.7 589.2,532.5 591.0,533.5 592.9,534.5 594.7,533.0 596.5,529.5 598.3,533.5 600.1,533.0 601.9,532.0 603.8,536.5 605.6,535.0 607.4,528.0 609.2,533.0 611.0,532.0 612.8,535.0 614.6,539.0 616.5,533.0 618.3,529.5 620.1,533.0 621.9,532.5 623.7,535.0 625.5,537.0 627.4,533.5 629.2,538.5 631.0,533.7 632.8,533.5 634.7,531.5 636.5,532.5 638.3,532.5 640.2,531.5 642.0,534.0 643.8,536.0 645.7,533.0 647.5,531.5 649.3,532.5 651.2,533.0 653.0,531.9 654.9,530.0 656.7,537.5 658.6,532.0 660.5,535.0 662.4,530.0 664.2,531.0 666.1,532.5 668.0,534.0 669.8,531.0 671.7,531.9 673.5,532.5 675.4,531.0 677.2,531.0 679.0,533.0 680.9,532.0 682.7,527.5 684.5,531.5 686.4,531.5 688.2,529.5 690.0,528.5 691.9,531.0 693.7,529.0 695.6,528.5 697.4,527.0 699.2,530.0 701.1,531.0 702.9,527.0 704.7,528.0 706.6,528.0 708.4,527.3 710.2,526.5 712.1,526.5 713.9,526.0 715.8,528.5 717.6,526.5 719.4,529.0 721.3,528.5 723.1,526.0 725.0,526.0 726.8,527.5 728.6,528.5 730.5,528.5 732.3,529.0 734.2,528.0 736.0,527.9 737.8,527.5 739.6,528.0 741.5,528.5 743.3,527.5 745.1,532.5 746.9,528.5 748.7,525.0 750.5,528.5 752.4,527.0 754.2,525.5 756.0,527.0 762.0,523.3 764.0,518.5 766.0,529.0 768.0,522.5 770.0,523.5 771.9,530.0 773.8,524.5 775.7,524.0 777.6,522.5 779.5,524.5 781.4,518.5 783.4,523.5 785.3,521.5 787.2,531.5 789.1,523.5 791.0,531.0 792.9,525.5 794.8,523.5 796.7,524.9 798.5,524.0 800.4,522.0 802.2,523.0 804.0,531.0 805.9,522.5 807.7,524.5 809.5,517.0 811.4,524.0 813.2,524.0 815.0,522.5 816.9,527.5 818.7,522.5 820.6,523.5 822.4,522.0 824.2,523.0 826.1,524.0 827.9,522.0 829.7,523.5 831.6,521.5 833.4,521.8 835.2,520.0 837.1,523.5 838.9,523.5 840.7,522.0 842.5,519.5 844.4,522.5 846.2,520.0 848.0,521.5 849.9,521.5 851.7,523.5 853.5,528.0 855.4,523.0 857.2,520.5 859.0,522.0 860.9,520.0 862.7,522.0 864.5,520.0 866.3,523.0 868.2,521.5 870.0,521.2 871.8,519.0 873.7,527.5 875.5,519.5 877.3,520.0 879.2,514.0 881.0,522.5 882.8,520.0 884.7,519.0 886.5,519.0 888.4,521.0 890.2,517.5 892.0,524.0 893.9,519.5 895.7,516.5 897.5,516.5 899.4,516.5 901.2,517.0 903.0,515.5 904.9,514.5 906.7,515.4 908.5,515.0 910.4,518.5 912.2,516.5 914.0,515.0 915.9,517.0 917.7,518.5 919.5,515.0 921.4,515.0 923.2,515.5 925.0,517.5 926.9,515.0 928.7,514.5 930.6,513.5 932.4,515.5 934.2,508.0 936.1,515.0 937.9,514.5 939.7,516.5 941.6,515.0 943.4,515.4 945.2,514.0 947.1,516.0 948.9,514.0 950.7,510.0 952.5,516.0 954.4,517.0 956.2,513.0 958.0,514.5 959.9,512.0 961.7,514.5 963.5,511.0 965.4,514.0 967.2,514.0 969.0,512.5 970.9,513.5 972.7,513.0 974.5,515.5 976.3,512.0 978.2,513.5 980.0,512.0 981.8,516.5 983.7,509.5 985.5,512.5 987.3,513.0 989.2,510.5 991.0,509.5 992.8,511.0 994.7,509.5 996.5,503.5 998.3,510.5 1000.2,512.5 1002.0,510.5 1003.8,507.0 1005.7,509.0 1007.5,509.5 1009.3,511.0 1011.2,507.0 1013.0,509.0 1021.3,509.0 1021.3,442.0 1021.3,505.0 1026.0,515.0 1035.0,523.0 1036.8,521.5 1038.7,524.5 1040.5,520.5 1042.4,523.0 1044.2,520.5 1046.0,520.0 1047.9,517.5 1049.7,522.5 1051.6,519.0 1053.4,519.4 1055.4,520.0 1057.4,519.0 1059.4,521.0 1061.4,520.0 1063.4,522.0 1065.4,522.5 1067.4,526.0 1069.4,523.0 1071.4,521.5 1073.3,522.5 1075.2,522.5 1077.2,524.5 1079.2,529.5 1081.1,524.0 1083.1,523.0 1085.0,528.0 1087.0,524.0 1088.9,523.0 1090.8,521.0 1092.7,523.5 1094.6,518.5 1096.5,518.5 1098.3,522.0 1100.2,528.0 1102.1,520.5 1104.0,520.0 1106.3,511.0 1109.0,520.0 1111.5,520.0 1114.0,521.0 1116.0,523.0 1117.9,526.5 1119.9,525.5 1121.8,526.0 1123.8,529.8 1125.7,530.0 1127.7,529.0 1129.6,528.5 1131.6,532.0 1133.5,530.0 1135.5,530.5 1137.4,529.8 1139.4,529.5 1141.3,529.0 1143.2,538.5 1145.2,531.0 1147.2,532.0 1149.1,534.0 1151.1,533.0 1153.0,536.0 1155.0,536.5 1156.9,535.6 1158.8,534.0 1160.8,542.0 1162.7,533.5 1164.7,533.5 1166.6,534.0 1168.5,533.0 1170.5,534.5 1172.4,534.5 1174.4,532.0 1176.3,531.7 1178.2,536.0 1180.2,533.5 1182.1,532.0 1184.0,538.5 1186.0,537.0 1187.9,539.0 1189.9,537.0 1191.8,540.5 1193.8,541.5 1195.7,535.0 1197.7,537.5 1199.6,531.0 1201.5,529.5 1203.5,530.7 1209.0,530.0 1209.0,481.0 1209.0,515.0 1214.0,520.0 1214.0,548.0 1221.0,558.0 1222.9,551.5 1224.8,553.5 1226.8,549.0 1228.7,550.2 1233.0,545.0 1236.0,530.0 1240.8,518.0 1240.8,515.0 1240.8,543.0 1245.0,550.0 1247.0,556.0 1247.0,568.0 1252.0,572.0 1252.0,590.0 1254.0,593.3 1259.8,593.3 1263.0,585.0 1268.0,575.0 1268.0,390.0 1268.0,610.0 1272.0,620.0 1276.0,624.0 1366.0,624.0 1370.0,613.5 1373.0,624.0 1380.0,625.0 1385.0,629.0 1389.0,624.0 1404.7,624.0 1408.7,628.3 1418.4,628.3 1423.0,620.0 1428.7,610.2 1431.0,620.0 1434.0,630.0 1436.0,632.8 1516.0,632.8 1519.5,610.2 1520.0,628.0 1523.0,634.2 1547.5,634.2 1549.0,639.0 1559.3,639.0" fill="none" stroke="#00ff00" stroke-width="5.4" stroke-linejoin="round" stroke-linecap="round"/>
<polyline points="193.0,577.0 195.9,575.0 198.8,574.5 201.7,573.5 204.6,571.0 207.5,570.0 210.1,568.5 212.7,568.5 215.3,567.5 218.0,566.5 220.6,562.0 223.2,563.0 225.8,560.0 228.4,556.5 231.1,556.5 233.7,552.5 236.3,551.5 238.9,552.5 241.6,548.0 244.2,546.8 246.8,543.5 249.4,543.5 252.0,543.0 254.7,542.5 257.3,537.5 259.9,537.5 262.5,536.2 265.1,533.5 267.8,531.5 270.4,530.0 273.0,525.5 275.6,526.0 278.3,521.5 280.9,521.0 283.9,521.5 287.0,518.5 290.0,517.0 293.1,516.0 296.1,516.5 299.2,516.0" fill="none" stroke="#00ff00" stroke-width="9.5" stroke-linejoin="round" stroke-linecap="round"/>
<polyline points="312.0,507.0 314.7,509.0 317.3,506.5 320.0,507.0 322.7,506.5 325.3,506.0 328.0,505.0 332.0,504.0" fill="none" stroke="#00ff00" stroke-width="9.5" stroke-linejoin="round" stroke-linecap="round"/>
<polyline points="354.2,563.3 356.8,561.0 359.4,562.0 362.0,560.5 364.7,560.5 367.3,562.0 369.9,559.0 372.5,558.7 375.0,561.0 377.5,556.5 380.0,560.0 382.5,556.0 385.0,557.0 387.5,559.0 390.0,558.5 392.5,555.0 395.0,558.5 397.5,558.5 400.0,556.9 402.6,554.0 405.3,554.0 407.9,553.0 410.5,553.0 413.1,554.0 415.8,549.0 418.4,550.8 421.0,551.0 423.6,547.5 426.2,550.5 428.9,548.0 431.5,547.5 434.1,551.5 436.7,549.0 439.3,549.0 441.9,547.5 444.5,547.5 447.2,548.0 449.8,550.0 452.4,549.0 455.0,546.8 457.5,545.0 460.0,547.0 462.5,545.0 465.0,544.5 467.5,543.0 470.0,544.4 472.6,544.5 475.2,543.5 477.8,545.0 480.5,546.0 483.1,544.0 485.7,544.5 488.3,544.7 490.9,545.0 493.6,545.0 496.2,543.0 498.8,543.0 501.4,543.0 504.1,541.5 506.7,540.7 509.3,542.0 511.9,539.0 514.5,538.5 517.2,537.5 519.8,536.0 522.4,536.0 525.0,535.6 527.6,535.0 530.3,534.0 532.9,533.5 535.5,532.0 538.1,529.5 540.8,530.5 543.4,529.7 546.3,529.0 549.2,525.5 552.2,526.5 555.1,523.0 558.0,523.3 561.7,524.0 565.4,527.0 568.4,524.0 571.5,521.0 574.5,514.5" fill="none" stroke="#00ff00" stroke-width="9.5" stroke-linejoin="round" stroke-linecap="round"/>
<polyline points="587.4,533.7 590.0,533.5 592.5,533.5 595.1,534.0 597.7,533.5 600.2,534.0 602.8,532.0 605.4,533.5 607.9,532.5 610.5,534.0 613.0,532.0 615.6,531.0 618.2,536.0 620.7,535.0 623.3,534.0 625.9,533.5 628.4,534.5 631.0,533.7 633.8,533.5 636.5,532.0 639.2,533.5 642.0,534.0 644.8,531.5 647.5,530.5 650.2,532.0 653.0,531.9 655.7,530.0 658.3,530.5 661.0,531.0 663.7,531.5 666.4,532.5 669.0,531.0 671.7,531.9 674.3,531.0 676.9,531.0 679.6,530.0 682.2,529.5 684.8,530.0 687.4,529.5 690.0,531.5 692.7,529.0 695.3,531.5 697.9,528.0 700.5,529.0 703.2,528.0 705.8,527.5 708.4,527.3 710.9,530.0 713.4,527.5 715.9,528.5 718.4,528.5 720.9,527.5 723.5,529.0 726.0,525.5 728.5,527.5 731.0,529.5 733.5,527.0 736.0,527.9 738.5,527.5 741.0,528.0 743.5,530.0 746.0,529.0 748.5,527.0 751.0,526.5 753.5,526.5 756.0,527.0" fill="none" stroke="#00ff00" stroke-width="9.5" stroke-linejoin="round" stroke-linecap="round"/>
<polyline points="762.0,523.3 764.7,524.5 767.3,522.5 770.0,523.5 772.7,522.5 775.3,523.5 778.0,523.5 780.7,525.0 783.4,525.5 786.0,525.5 788.7,525.5 791.4,525.0 794.0,527.0 796.7,524.9 799.3,524.0 801.9,525.5 804.6,526.5 807.2,523.5 809.8,524.5 812.4,523.5 815.0,523.5 817.7,521.5 820.3,524.5 822.9,524.0 825.5,522.0 828.2,521.0 830.8,523.0 833.4,521.8 836.0,521.5 838.6,522.0 841.2,520.5 843.9,521.0 846.5,521.5 849.1,519.0 851.7,523.0 854.3,523.0 856.9,522.5 859.5,524.0 862.2,521.5 864.8,521.5 867.4,520.5 870.0,521.2 872.6,520.5 875.2,520.5 877.9,520.0 880.5,518.5 883.1,518.5 885.7,517.5 888.4,518.5 891.0,518.0 893.6,518.0 896.2,517.0 898.8,516.5 901.5,516.0 904.1,515.0 906.7,515.4 909.3,515.5 911.9,517.0 914.6,517.0 917.2,515.5 919.8,516.5 922.4,516.5 925.0,514.5 927.7,515.5 930.3,515.5 932.9,516.5 935.5,516.5 938.2,513.0 940.8,515.5 943.4,515.4 946.0,515.0 948.6,514.0 951.2,513.0 953.9,514.0 956.5,513.0 959.1,516.0 961.7,514.5 964.3,514.0 966.9,513.0 969.5,511.0 972.2,510.0 974.8,511.5 977.4,511.0 980.0,512.0 982.5,511.0 985.1,512.5 987.6,512.0 990.2,510.0 992.7,510.5 995.2,508.5 997.8,512.5 1000.3,510.0 1002.8,508.5 1005.4,509.0 1007.9,510.0 1010.5,510.0 1013.0,509.0" fill="none" stroke="#00ff00" stroke-width="9.5" stroke-linejoin="round" stroke-linecap="round"/>
<polyline points="1035.0,523.0 1037.6,522.0 1040.3,524.5 1042.9,522.5 1045.5,521.0 1048.1,522.5 1050.8,519.0 1053.4,519.4 1056.1,520.5 1058.7,521.0 1061.4,520.5 1064.1,521.5 1066.7,521.0 1069.4,523.0 1072.2,523.0 1075.0,522.5 1077.8,520.5 1080.5,523.5 1083.3,524.5 1086.1,524.0 1088.9,523.0 1091.4,524.5 1093.9,521.0 1096.5,520.5 1099.0,522.5 1101.5,521.0 1104.0,520.0" fill="none" stroke="#00ff00" stroke-width="9.5" stroke-linejoin="round" stroke-linecap="round"/>
<polyline points="1109.0,520.0 1111.5,520.0 1114.0,521.0 1117.3,526.5 1120.5,526.0 1123.8,529.8 1126.5,530.5 1129.2,530.5 1132.0,529.5 1134.7,530.0 1137.4,529.8 1140.2,531.0 1143.0,532.5 1145.8,531.5 1148.5,533.0 1151.3,534.0 1154.1,534.0 1156.9,535.6 1159.7,535.5 1162.4,534.0 1165.2,534.0 1168.0,534.5 1170.8,531.5 1173.5,533.0 1176.3,531.7 1178.9,534.0 1181.5,534.0 1184.0,537.5 1186.6,537.5 1189.2,539.0 1191.8,540.5 1194.7,538.5 1197.7,535.0 1200.6,532.0 1203.5,530.7" fill="none" stroke="#00ff00" stroke-width="9.5" stroke-linejoin="round" stroke-linecap="round"/>
<polyline points="1221.0,558.0 1223.6,556.0 1226.1,554.0 1228.7,550.2" fill="none" stroke="#00ff00" stroke-width="9.5" stroke-linejoin="round" stroke-linecap="round"/>
<polyline points="1272.0,620.0 1276.0,624.0 1366.0,624.0" fill="none" stroke="#00ff00" stroke-width="7.8" stroke-linejoin="round" stroke-linecap="round"/>
<polyline points="1380.0,625.0 1385.0,629.0 1389.0,624.0 1404.7,624.0 1408.7,628.3 1418.4,628.3" fill="none" stroke="#00ff00" stroke-width="7.5" stroke-linejoin="round" stroke-linecap="round"/>
<polyline points="1434.0,630.0 1436.0,632.8 1516.0,632.8" fill="none" stroke="#00ff00" stroke-width="7.8" stroke-linejoin="round" stroke-linecap="round"/>
<polyline points="1523.0,634.2 1547.5,634.2" fill="none" stroke="#00ff00" stroke-width="6.0" stroke-linejoin="round" stroke-linecap="round"/>
<polyline points="193.0,394.0 194.8,396.0 196.6,393.5 198.4,397.5 200.2,392.0 202.1,394.0 203.9,393.0 205.7,389.0 207.5,391.2 209.3,393.0 211.2,391.0 213.0,389.0 214.8,388.5 216.7,390.0 218.5,388.5 220.3,385.0 222.1,386.0 224.0,386.0 225.8,384.8 227.6,383.0 229.5,381.5 231.3,384.5 233.2,381.5 235.0,379.0 236.8,379.0 238.7,379.0 240.5,379.0 242.4,378.5 244.2,378.4 246.0,376.0 247.9,378.0 249.7,375.5 251.5,377.0 253.3,372.5 255.2,373.0 257.0,371.5 258.8,371.0 260.7,372.5 262.5,369.2 264.3,371.0 266.2,368.5 268.0,368.0 269.9,366.0 271.7,360.5 273.5,364.0 275.4,363.0 277.2,362.0 279.1,361.0 280.9,361.0 282.7,361.5 284.6,361.0 286.4,361.0 288.2,359.0 290.0,361.5 291.9,360.0 293.7,359.0 295.5,361.5 297.4,356.5 299.2,359.0 302.8,356.0 302.8,312.0 305.0,309.6 308.2,309.6 308.2,352.0 312.0,355.4 314.0,356.0 316.0,353.5 318.0,357.5 320.0,355.0 322.0,357.0 324.0,354.5 326.0,355.0 328.0,356.0 330.0,352.5 332.0,355.4 335.0,355.0 335.0,261.0 337.5,261.0 340.3,278.0 340.3,366.0 343.0,370.0 346.0,377.0 348.7,386.0 352.0,389.4 353.9,389.5 355.8,387.0 357.7,391.0 359.6,391.5 361.5,388.5 363.4,389.4 365.2,390.0 367.1,389.5 368.9,387.5 370.7,389.5 372.5,385.5 374.4,386.5 376.2,390.0 378.0,387.5 379.9,386.5 381.7,385.7 383.5,391.5 385.4,384.0 387.2,386.5 389.0,386.0 390.9,386.0 392.7,386.5 394.5,383.5 396.4,379.0 398.2,386.5 400.0,384.5 401.9,387.0 403.7,383.0 405.6,388.0 407.4,379.0 409.2,384.5 411.1,382.5 412.9,385.5 414.7,384.5 416.6,383.5 418.4,385.0 420.2,381.5 422.1,390.5 423.9,383.5 425.7,390.5 427.5,380.5 429.4,387.0 431.2,377.5 433.0,382.0 434.9,383.5 436.7,381.0 438.5,383.0 440.4,380.5 442.2,381.0 444.0,384.0 445.9,378.0 447.7,379.5 449.5,382.0 451.3,382.5 453.2,379.5 455.0,380.2 456.9,380.0 458.8,381.0 460.6,381.0 462.5,379.0 464.4,377.0 466.2,380.0 468.1,377.5 470.0,378.0 471.8,377.0 473.7,377.0 475.5,378.0 477.3,376.5 479.2,384.5 481.0,376.0 482.8,375.5 484.7,375.5 486.5,378.0 488.4,376.0 490.2,377.5 492.0,375.5 493.9,378.0 495.7,370.5 497.5,378.0 499.4,376.0 501.2,368.0 503.0,377.0 504.9,375.5 506.7,375.2 508.5,375.5 510.4,373.5 512.2,374.0 514.0,377.5 515.9,373.5 517.7,376.0 519.5,374.0 521.4,372.5 523.2,375.0 525.0,373.0 526.9,373.0 528.7,378.5 530.6,376.5 532.4,375.5 534.2,374.0 536.1,369.5 537.9,372.0 539.7,374.0 541.6,370.5 543.4,371.9 545.3,369.0 547.1,372.0 549.0,370.0 550.8,366.0 552.7,369.5 554.6,370.0 556.4,369.5 558.3,369.0 560.1,369.5 562.0,369.5 563.8,369.0 565.7,361.5 567.6,367.0 569.4,372.0 571.3,368.0 573.1,367.5 575.0,366.0 580.0,363.3 586.0,368.0 589.2,371.9 591.0,372.0 592.9,373.0 594.7,373.0 596.5,373.0 598.4,372.5 600.2,370.5 602.0,370.5 603.9,373.0 605.7,370.5 607.5,366.0 609.4,371.5 611.2,370.5 613.0,370.5 614.9,371.5 616.7,372.4 618.5,370.5 620.4,370.0 622.2,372.0 624.0,370.0 625.9,370.5 627.7,371.0 629.5,369.5 631.4,367.5 633.2,372.5 635.0,370.5 636.9,369.0 638.7,370.5 640.6,369.5 642.4,366.5 644.2,366.0 646.1,362.5 647.9,369.5 649.7,371.0 651.6,367.5 653.4,367.3 655.2,366.0 657.1,366.5 658.9,366.5 660.7,370.0 662.5,365.0 664.4,367.5 666.2,367.0 668.0,363.0 669.9,370.0 671.7,367.0 673.5,367.5 675.4,367.0 677.2,365.5 679.0,368.0 680.9,367.0 682.7,365.5 684.5,368.5 686.3,366.0 688.2,370.0 690.0,367.3 691.8,374.0 693.7,374.5 695.5,367.5 697.3,367.5 699.2,366.5 701.0,365.0 702.8,369.0 704.7,368.5 706.5,367.0 708.4,365.5 710.2,365.5 712.0,369.0 713.9,366.5 715.7,365.5 717.5,360.5 719.4,365.5 721.2,364.5 723.0,373.5 724.9,370.0 726.7,367.0 728.6,367.0 730.4,361.5 732.2,367.5 734.1,365.5 736.0,363.0 737.8,365.5 739.6,364.0 741.5,366.0 743.4,365.5 745.2,367.5 747.1,365.5 748.9,365.5 750.8,367.0 752.6,364.5 754.5,366.0 756.3,366.0 758.1,366.5 760.0,363.7 761.8,364.0 763.7,364.5 765.5,368.5 767.3,362.5 769.2,366.5 771.0,364.0 772.8,362.0 774.7,361.0 776.5,357.0 778.4,363.0 780.2,364.0 782.0,364.5 783.9,364.0 785.7,362.0 787.5,364.0 789.4,363.0 791.2,364.5 793.0,365.0 794.9,362.5 796.7,363.4 798.5,361.5 800.4,361.5 802.2,360.5 804.0,364.0 805.9,362.0 807.7,356.0 809.5,360.5 811.4,360.0 813.2,357.0 815.0,362.0 816.9,360.0 818.7,360.0 820.6,361.0 822.4,363.5 824.2,358.5 826.1,359.5 827.9,360.0 829.7,358.5 831.6,360.0 833.4,359.2 835.2,360.0 837.1,358.5 838.9,359.5 840.7,357.0 842.5,360.0 844.4,359.0 846.2,357.0 848.0,359.5 849.9,359.5 851.7,359.0 853.5,353.0 855.4,359.0 857.2,358.5 859.0,356.0 860.9,361.0 862.7,357.5 864.5,358.5 866.3,360.5 868.2,361.0 870.0,359.2 871.8,359.5 873.7,359.0 875.5,360.0 877.3,360.5 879.2,357.0 881.0,364.5 882.8,359.5 884.7,361.0 886.5,359.0 888.4,360.5 890.2,364.5 892.0,364.0 893.9,357.5 895.7,358.5 897.5,359.0 899.4,361.0 901.2,359.0 903.0,358.0 904.9,358.0 906.7,359.2 908.5,358.5 910.4,359.5 912.2,357.0 914.0,359.5 915.9,361.5 917.7,357.5 919.5,359.0 921.4,359.0 923.2,359.5 925.0,357.5 926.9,356.0 928.7,354.5 930.6,353.5 932.4,355.0 934.2,354.5 936.1,356.0 937.9,354.5 939.7,355.5 941.6,355.0 943.4,355.1 945.2,353.0 947.1,357.5 948.9,351.5 950.7,354.0 952.5,354.5 954.4,353.0 956.2,359.0 958.0,353.5 959.9,355.0 961.7,355.0 963.5,351.0 965.4,352.5 967.2,354.0 969.0,352.0 970.9,352.0 972.7,354.5 974.5,351.0 976.3,354.0 978.2,353.0 980.0,350.9 981.9,349.5 983.8,351.0 985.6,343.5 987.5,349.0 989.4,351.0 991.2,345.5 993.1,349.5 995.0,348.5 996.9,347.5 998.8,344.0 1000.6,350.0 1002.5,346.0 1004.4,344.5 1006.2,346.0 1008.1,344.5 1010.0,345.0 1016.0,342.6 1021.3,342.6 1021.3,313.9 1021.3,345.0 1027.0,352.0 1029.0,357.5 1031.0,358.0 1033.0,357.0 1035.0,357.3 1036.8,356.5 1038.7,357.5 1040.5,364.0 1042.4,356.5 1044.2,355.5 1046.0,353.5 1047.9,353.5 1049.7,356.0 1051.6,355.0 1053.4,355.1 1055.3,356.0 1057.1,356.0 1059.0,358.0 1060.8,363.5 1062.7,357.0 1064.6,354.5 1066.4,356.5 1068.3,357.4 1070.1,356.5 1072.0,355.0 1073.8,354.5 1075.7,351.0 1077.5,354.0 1079.3,354.0 1081.2,353.5 1083.0,353.4 1084.8,355.0 1086.7,355.0 1088.5,356.0 1090.3,356.0 1092.2,356.0 1094.0,356.5 1096.3,350.5 1098.7,353.0 1101.0,353.0 1106.8,353.0 1106.8,339.6 1106.8,352.0 1113.0,356.0 1117.9,347.8 1120.0,356.0 1123.4,359.8 1125.3,361.0 1127.3,356.5 1129.2,363.0 1131.1,362.0 1133.1,360.5 1135.0,362.0 1138.0,352.5 1141.0,363.0 1143.0,370.0 1145.0,360.5 1146.9,364.0 1148.9,363.5 1150.9,366.6 1152.7,365.0 1154.6,366.5 1156.4,368.0 1158.2,367.5 1160.1,370.0 1161.9,367.5 1163.7,370.5 1165.5,367.5 1167.4,368.5 1169.2,368.0 1171.0,373.0 1172.9,367.5 1174.7,367.0 1176.5,366.5 1178.3,365.5 1180.2,367.0 1182.0,367.5 1183.8,368.5 1185.7,366.0 1187.5,366.6 1189.6,365.0 1191.8,366.0 1193.9,366.0 1196.0,366.0 1200.4,357.0 1206.0,357.0 1209.0,357.0 1209.0,317.6 1209.0,335.0 1213.5,345.0 1213.5,375.0 1216.0,381.0 1218.0,381.5 1220.1,380.5 1222.2,381.0 1224.2,383.0 1226.0,382.5 1227.8,388.0 1229.7,381.0 1231.5,381.0 1237.0,372.0 1240.8,372.0 1240.8,356.2 1240.8,375.0 1245.0,385.0 1247.0,390.0 1249.0,400.0 1251.7,402.0 1257.2,408.7 1260.0,405.0 1263.0,393.0 1268.0,393.0 1268.0,250.0 1268.0,420.0 1272.0,422.0 1281.5,421.5 1300.0,423.5 1302.0,418.0 1305.0,424.0 1312.0,424.0 1314.0,418.0 1318.0,424.0 1323.0,428.0 1326.0,424.0 1331.0,424.0 1333.0,418.0 1337.0,424.0 1342.0,428.0 1345.0,424.0 1365.6,424.0 1369.5,416.5 1373.0,424.0 1377.0,425.4 1387.0,424.0 1414.5,424.0 1416.5,426.4 1422.0,420.0 1428.5,407.7 1431.0,418.0 1434.0,426.0 1436.0,430.3 1508.4,430.3 1514.0,428.0 1519.5,412.6 1520.0,425.0 1524.0,430.3 1534.0,430.3 1537.7,432.3 1559.3,432.3" fill="none" stroke="#ff0000" stroke-width="5.4" stroke-linejoin="round" stroke-linecap="round"/>
<polyline points="193.0,394.0 195.9,394.5 198.8,393.0 201.7,393.0 204.6,392.0 207.5,391.2 210.1,391.0 212.7,391.0 215.3,387.0 218.0,386.0 220.6,387.0 223.2,384.5 225.8,384.8 228.4,384.0 231.1,383.0 233.7,383.5 236.3,380.5 238.9,379.5 241.6,379.0 244.2,378.4 246.8,376.5 249.4,376.0 252.0,376.0 254.7,372.0 257.3,369.5 259.9,370.0 262.5,369.2 265.1,368.0 267.8,366.0 270.4,367.0 273.0,363.5 275.6,363.0 278.3,361.0 280.9,361.0 283.5,360.5 286.1,359.5 288.7,360.0 291.4,359.5 294.0,359.5 296.6,361.5 299.2,359.0" fill="none" stroke="#ff0000" stroke-width="9.5" stroke-linejoin="round" stroke-linecap="round"/>
<polyline points="312.0,355.4 314.7,353.0 317.3,355.5 320.0,355.0 323.0,354.5 326.0,353.5 329.0,354.5 332.0,355.4" fill="none" stroke="#ff0000" stroke-width="9.5" stroke-linejoin="round" stroke-linecap="round"/>
<polyline points="352.0,389.4 354.9,389.5 357.7,388.5 360.5,391.5 363.4,389.4 366.0,388.5 368.6,387.0 371.2,389.0 373.9,387.5 376.5,388.0 379.1,385.5 381.7,385.7 384.3,385.0 386.9,387.5 389.6,385.5 392.2,384.5 394.8,385.5 397.4,383.0 400.0,385.0 402.7,385.5 405.3,383.5 407.9,385.5 410.5,384.0 413.2,386.5 415.8,385.0 418.4,385.0 421.0,385.5 423.6,386.5 426.2,383.0 428.9,383.0 431.5,383.0 434.1,380.5 436.7,382.5 439.3,382.0 441.9,384.5 444.5,382.0 447.2,381.0 449.8,380.0 452.4,381.5 455.0,380.2 457.5,381.5 460.0,377.5 462.5,379.5 465.0,377.0 467.5,380.5 470.0,378.0 472.6,379.0 475.2,378.5 477.9,377.5 480.5,375.5 483.1,376.5 485.7,379.0 488.4,376.0 491.0,376.0 493.6,374.5 496.2,375.0 498.8,374.5 501.5,374.5 504.1,377.5 506.7,375.2 509.3,375.5 511.9,374.5 514.6,377.0 517.2,375.5 519.8,375.0 522.4,372.5 525.0,371.0 527.7,374.0 530.3,372.5 532.9,373.0 535.5,373.0 538.2,371.0 540.8,374.0 543.4,371.9 546.0,373.5 548.7,371.5 551.3,371.0 553.9,369.0 556.6,370.0 559.2,368.5 561.8,371.0 564.5,367.0 567.1,367.0 569.7,366.5 572.4,365.5 575.0,366.0" fill="none" stroke="#ff0000" stroke-width="9.5" stroke-linejoin="round" stroke-linecap="round"/>
<polyline points="586.0,368.0 589.2,371.9 591.7,371.0 594.2,372.5 596.7,371.5 599.2,371.0 601.7,370.5 604.2,372.5 606.7,372.0 609.2,372.5 611.7,372.5 614.2,373.0 616.7,372.4 619.3,373.0 621.9,371.0 624.6,372.5 627.2,372.5 629.8,371.0 632.4,368.5 635.0,369.0 637.7,368.5 640.3,370.0 642.9,368.5 645.5,369.0 648.2,365.5 650.8,367.0 653.4,367.3 656.0,367.0 658.6,366.5 661.2,366.0 663.9,369.5 666.5,365.0 669.1,369.5 671.7,369.5 674.3,366.5 676.9,366.5 679.5,366.5 682.2,367.0 684.8,365.0 687.4,366.0 690.0,367.3 692.6,367.0 695.2,369.5 697.9,366.0 700.5,367.0 703.1,365.0 705.7,367.0 708.4,366.5 711.0,369.0 713.6,367.5 716.2,367.0 718.8,368.0 721.5,368.0 724.1,366.0 726.7,367.0 729.3,366.5 731.8,367.5 734.4,365.0 736.9,367.0 739.5,368.0 742.1,364.5 744.6,364.5 747.2,365.0 749.8,364.0 752.3,365.0 754.9,364.5 757.4,365.5 760.0,363.7 762.6,363.5 765.2,365.0 767.9,363.5 770.5,364.5 773.1,362.5 775.7,365.0 778.4,364.5 781.0,364.5 783.6,365.0 786.2,364.5 788.8,363.0 791.5,365.0 794.1,362.0 796.7,363.4 799.3,363.0 801.9,365.5 804.6,361.5 807.2,364.0 809.8,362.5 812.4,360.5 815.0,360.5 817.7,360.0 820.3,362.0 822.9,360.5 825.5,362.0 828.2,361.0 830.8,359.5 833.4,359.2 836.0,357.5 838.6,356.5 841.2,358.0 843.9,358.0 846.5,359.5 849.1,358.0 851.7,356.5 854.3,359.0 856.9,359.5 859.5,361.0 862.2,357.5 864.8,359.5 867.4,358.0 870.0,359.2 872.6,358.5 875.2,360.5 877.9,358.5 880.5,361.5 883.1,359.5 885.7,360.5 888.4,358.5 891.0,358.0 893.6,359.0 896.2,360.5 898.8,360.0 901.5,359.5 904.1,359.0 906.7,359.2 909.3,359.0 911.9,359.0 914.6,359.0 917.2,358.0 919.8,359.5 922.4,357.0 925.0,356.5 927.7,357.0 930.3,355.0 932.9,356.5 935.5,356.5 938.2,357.0 940.8,356.0 943.4,355.1 946.0,356.0 948.6,353.5 951.2,354.0 953.9,355.5 956.5,352.0 959.1,353.0 961.7,353.5 964.3,353.5 966.9,350.5 969.5,354.5 972.2,352.0 974.8,352.0 977.4,351.0 980.0,350.9 982.5,350.5 985.0,351.0 987.5,350.0 990.0,346.5 992.5,348.5 995.0,350.0 997.5,346.0 1000.0,347.5 1002.5,347.5 1005.0,345.0 1007.5,345.0 1010.0,345.0" fill="none" stroke="#ff0000" stroke-width="9.5" stroke-linejoin="round" stroke-linecap="round"/>
<polyline points="1027.0,352.0 1029.7,354.0 1032.3,355.0 1035.0,357.3 1037.6,356.5 1040.3,356.0 1042.9,356.0 1045.5,354.5 1048.1,355.5 1050.8,355.0 1053.4,355.1 1056.4,355.5 1059.4,355.0 1062.3,356.5 1065.3,356.5 1068.3,357.4 1071.2,356.0 1074.2,355.5 1077.1,356.0 1080.1,353.5 1083.0,353.4 1085.8,354.0 1088.5,356.5 1091.2,355.5 1094.0,356.5 1097.5,354.5 1101.0,353.0" fill="none" stroke="#ff0000" stroke-width="9.5" stroke-linejoin="round" stroke-linecap="round"/>
<polyline points="1120.0,356.0 1123.4,359.8 1126.3,360.0 1129.2,360.0 1132.1,363.5 1135.0,362.0" fill="none" stroke="#ff0000" stroke-width="9.5" stroke-linejoin="round" stroke-linecap="round"/>
<polyline points="1141.0,363.0 1144.3,365.0 1147.6,365.0 1150.9,366.6 1153.5,364.5 1156.1,367.5 1158.7,366.5 1161.4,365.0 1164.0,368.0 1166.6,369.5 1169.2,368.0 1171.8,367.5 1174.4,366.5 1177.0,368.0 1179.7,367.0 1182.3,369.5 1184.9,366.5 1187.5,366.6 1190.3,365.0 1193.2,367.5 1196.0,366.0" fill="none" stroke="#ff0000" stroke-width="9.5" stroke-linejoin="round" stroke-linecap="round"/>
<polyline points="1216.0,381.0 1218.7,381.5 1221.5,382.0 1224.2,383.0 1227.8,382.0 1231.5,381.0" fill="none" stroke="#ff0000" stroke-width="9.5" stroke-linejoin="round" stroke-linecap="round"/>
<polyline points="1272.0,422.0 1281.5,421.5 1300.0,423.5 1302.0,418.0 1305.0,424.0 1312.0,424.0 1314.0,418.0 1318.0,424.0 1323.0,428.0 1326.0,424.0 1331.0,424.0 1333.0,418.0 1337.0,424.0 1342.0,428.0 1345.0,424.0 1365.6,424.0" fill="none" stroke="#ff0000" stroke-width="6.8" stroke-linejoin="round" stroke-linecap="round"/>
<polyline points="1377.0,425.4 1387.0,424.0 1414.5,424.0" fill="none" stroke="#ff0000" stroke-width="6.5" stroke-linejoin="round" stroke-linecap="round"/>
<polyline points="1434.0,426.0 1436.0,430.3 1508.4,430.3" fill="none" stroke="#ff0000" stroke-width="7.6" stroke-linejoin="round" stroke-linecap="round"/>
<polyline points="1524.0,430.3 1534.0,430.3 1537.7,432.3 1559.3,432.3" fill="none" stroke="#ff0000" stroke-width="6.0" stroke-linejoin="round" stroke-linecap="round"/>
<polyline points="193.0,258.0 194.8,260.0 196.7,257.0 198.5,256.0 200.3,258.5 202.2,256.5 204.0,254.0 205.9,252.5 207.7,253.5 209.6,252.0 211.4,251.0 213.3,253.5 215.1,249.5 217.0,249.0 218.8,247.0 220.6,241.0 222.4,246.5 224.2,245.0 226.0,245.5 227.8,243.0 229.6,244.0 231.4,249.5 233.2,242.5 235.0,242.0 236.8,240.0 238.6,242.5 240.4,239.5 242.2,239.0 244.0,237.5 245.8,237.0 247.6,239.5 249.4,233.0 251.2,237.5 253.0,235.0 254.9,236.0 256.8,236.5 258.7,232.0 260.6,232.0 262.5,230.0 264.4,232.0 266.3,229.0 268.2,231.5 270.1,230.5 272.0,228.0 273.8,226.0 275.6,228.5 277.4,225.0 279.2,222.5 281.0,221.0 282.8,228.5 284.6,222.0 286.4,221.5 288.2,228.0 290.0,221.0 291.8,218.0 293.6,222.5 295.4,223.0 297.2,219.5 299.0,221.0 302.8,219.0 302.8,200.0 306.5,192.2 308.2,192.2 308.2,212.0 314.0,215.0 316.0,214.5 318.0,216.0 320.0,217.0 322.0,216.5 324.0,217.5 326.0,217.5 328.0,216.0 330.0,214.5 332.0,216.0 335.0,215.0 335.0,166.5 339.5,167.0 341.2,175.0 341.2,237.0 345.0,240.0 347.3,240.5 349.7,240.0 352.0,242.0 353.8,243.0 355.7,241.0 357.5,241.5 359.3,240.0 361.2,241.5 363.0,240.0 364.9,239.5 366.8,238.0 368.7,238.5 370.6,237.0 372.5,238.5 374.4,238.5 376.3,238.5 378.2,240.0 380.1,237.5 382.0,236.0 383.8,236.0 385.6,240.0 387.4,235.5 389.2,234.5 391.0,237.0 392.8,235.0 394.6,233.5 396.4,236.0 398.2,236.5 400.0,236.5 401.8,232.5 403.6,235.0 405.4,233.0 407.2,234.0 409.0,231.0 410.8,234.5 412.6,229.0 414.4,235.0 416.2,231.5 418.0,233.5 419.9,233.5 421.7,233.0 423.6,232.5 425.4,233.0 427.2,234.0 429.1,231.5 430.9,225.5 432.8,238.0 434.6,232.0 436.5,228.5 438.4,228.5 440.2,230.5 442.1,226.0 443.9,231.5 445.8,230.0 447.6,228.5 449.4,227.5 451.3,228.0 453.1,228.0 455.0,227.0 456.9,226.0 458.8,225.5 460.6,233.0 462.5,226.5 464.4,225.5 466.2,225.5 468.1,224.0 470.0,224.7 471.8,226.0 473.7,222.5 475.5,225.5 477.3,224.0 479.2,223.0 481.0,221.0 482.8,229.5 484.7,230.0 486.5,219.0 488.4,224.5 490.2,225.0 492.0,221.5 493.9,222.0 495.7,228.0 497.5,223.5 499.4,221.0 501.2,222.0 503.0,223.0 504.9,222.0 506.7,219.7 508.5,219.0 510.4,217.5 512.2,220.0 514.0,219.0 515.9,219.5 517.7,219.5 519.5,218.0 521.4,216.5 523.2,218.5 525.0,216.5 526.9,214.0 528.7,214.5 530.6,213.0 532.4,218.0 534.2,221.5 536.1,222.0 537.9,216.5 539.7,212.0 541.6,213.0 543.4,214.2 545.2,212.0 547.1,214.0 548.9,212.5 550.7,211.0 552.5,216.5 554.4,212.5 556.2,208.5 558.0,210.0 559.9,213.5 561.7,213.0 563.5,212.5 565.4,212.0 567.2,213.0 569.0,212.0 570.9,212.0 572.7,204.0 574.5,211.0 576.3,208.0 578.2,213.5 580.0,210.0 581.8,210.0 583.7,212.0 585.5,210.0 587.3,210.5 589.2,209.5 591.0,212.0 592.8,211.0 594.7,210.0 596.5,211.5 598.4,211.5 600.2,210.5 602.0,207.5 603.9,214.0 605.7,213.0 607.5,212.5 609.4,213.5 611.2,213.0 613.0,213.0 614.9,219.5 616.7,213.3 618.5,213.5 620.4,209.5 622.2,211.0 624.0,214.5 625.9,211.5 627.7,211.0 629.5,218.5 631.4,211.5 633.2,209.5 635.0,210.5 636.9,213.5 638.7,209.0 640.6,215.0 642.4,207.0 644.2,212.0 646.1,211.5 647.9,212.0 649.7,208.5 651.6,209.0 653.4,208.7 655.2,211.0 657.1,208.0 658.9,207.5 660.7,204.0 662.5,209.5 664.4,201.5 666.2,208.0 668.0,205.5 669.9,208.5 671.7,210.5 673.5,209.0 675.4,206.5 677.2,208.5 679.0,207.0 680.9,207.5 682.7,208.5 684.5,209.0 686.3,209.5 688.2,211.5 690.0,208.3 691.8,207.5 693.7,207.5 695.5,207.0 697.3,207.5 699.2,213.5 701.0,205.5 702.8,208.0 704.7,207.0 706.5,207.5 708.4,207.5 710.2,206.5 712.0,206.0 713.9,206.5 715.7,205.5 717.5,208.5 719.4,211.0 721.2,205.0 723.0,203.0 724.9,206.5 726.7,205.0 728.6,206.5 730.4,206.5 732.2,205.0 734.1,204.0 736.0,205.0 737.8,203.5 739.6,204.0 741.5,199.0 743.4,202.0 745.2,202.5 747.1,200.5 748.9,204.0 750.8,201.0 752.6,202.0 754.5,200.0 756.3,204.0 758.1,202.0 760.0,200.5 761.8,202.5 763.7,200.0 765.5,200.5 767.3,201.0 769.2,201.5 771.0,201.5 772.8,202.0 774.7,199.0 776.5,199.0 778.4,201.0 780.2,201.0 782.0,197.0 783.9,200.0 785.7,200.5 787.5,198.0 789.4,203.5 791.2,200.5 793.0,197.0 794.9,199.0 796.7,200.0 798.5,200.0 800.4,198.0 802.2,193.5 804.0,198.5 805.9,191.0 807.7,197.5 809.5,198.5 811.4,195.5 813.2,197.0 815.0,195.0 816.9,197.0 818.7,196.5 820.6,192.5 822.4,194.0 824.2,195.0 826.1,191.0 827.9,196.0 829.7,194.5 831.6,193.5 833.4,192.6 835.2,192.5 837.1,192.0 838.9,192.0 840.7,191.0 842.5,193.0 844.4,192.0 846.2,192.5 848.0,189.5 849.9,190.5 851.7,192.0 853.5,193.5 855.4,194.5 857.2,192.0 859.0,190.0 860.9,191.0 862.7,191.5 864.5,191.5 866.3,192.0 868.2,190.5 870.0,190.8 871.8,192.0 873.7,190.0 875.5,189.0 877.3,190.0 879.2,191.5 881.0,196.5 882.8,184.5 884.7,188.5 886.5,190.0 888.4,189.5 890.2,189.5 892.0,189.5 893.9,191.0 895.7,192.5 897.5,188.0 899.4,190.0 901.2,190.5 903.0,189.5 904.9,183.5 906.7,189.0 908.5,188.5 910.4,188.5 912.2,190.0 914.0,190.0 915.9,189.0 917.7,188.0 919.5,187.5 921.4,190.0 923.2,180.5 925.0,190.0 926.9,185.0 928.7,189.5 930.6,188.0 932.4,187.0 934.2,186.0 936.1,188.0 937.9,186.0 939.7,187.0 941.6,185.0 943.4,184.4 945.2,183.0 947.1,184.5 948.9,184.0 950.7,182.0 952.5,183.5 954.4,184.5 956.2,181.5 958.0,180.5 959.9,182.0 961.7,180.7 963.5,182.5 965.4,181.0 967.2,181.0 969.0,180.5 970.9,181.0 972.7,180.0 974.5,181.0 976.4,180.0 978.2,179.0 980.0,180.0 981.9,180.5 983.7,180.5 985.6,183.5 987.4,181.5 989.2,184.0 991.1,180.5 992.9,181.5 994.7,180.5 996.6,182.0 998.4,181.6 1000.4,181.0 1002.3,183.5 1004.3,182.5 1006.2,181.5 1008.2,182.0 1010.1,179.5 1012.1,183.5 1014.0,181.5 1016.0,183.0 1021.3,183.0 1021.3,149.6 1021.3,183.0 1029.6,190.0 1031.5,191.0 1033.3,191.0 1035.2,195.0 1037.0,189.5 1038.9,190.5 1040.7,188.5 1042.6,190.5 1044.4,190.5 1046.3,189.0 1048.1,188.5 1050.0,190.7 1051.8,192.5 1053.6,191.0 1055.4,190.5 1057.2,193.0 1059.0,189.5 1060.8,185.5 1062.7,194.0 1064.5,192.0 1066.3,195.5 1068.1,192.5 1069.9,194.0 1071.7,193.0 1073.5,193.0 1075.3,194.6 1077.2,196.5 1079.2,196.0 1081.1,195.5 1083.0,197.0 1085.0,196.5 1086.9,200.5 1088.8,202.0 1090.8,200.5 1092.7,200.5 1094.7,199.0 1096.6,197.0 1098.5,203.5 1100.5,199.5 1102.5,194.0 1104.4,189.0 1106.3,194.0 1108.3,192.7 1110.2,194.5 1112.2,197.0 1114.2,200.0 1116.1,198.5 1118.0,203.5 1120.0,206.3 1121.9,205.0 1123.9,208.0 1125.8,207.0 1127.7,207.0 1129.7,207.0 1131.6,207.5 1133.5,200.5 1135.5,207.0 1137.4,207.3 1139.4,208.5 1141.3,211.5 1143.2,207.5 1145.2,209.0 1147.2,210.5 1149.1,210.0 1151.1,215.0 1153.0,212.5 1155.0,212.0 1156.9,216.0 1158.8,215.0 1160.8,216.0 1162.7,216.0 1164.7,217.0 1166.6,215.0 1168.5,214.0 1170.5,213.0 1172.4,212.5 1174.4,214.0 1176.3,214.0 1178.2,216.0 1180.2,216.0 1182.1,215.0 1184.1,214.0 1186.0,219.0 1187.9,219.5 1189.9,222.0 1191.8,222.5 1193.8,222.0 1195.7,221.8 1197.7,220.0 1199.6,217.0 1201.5,218.0 1203.5,217.0 1209.0,217.0 1209.0,179.4 1209.0,195.0 1214.0,207.0 1214.0,231.0 1219.0,238.3 1220.9,239.5 1222.9,239.5 1224.8,238.0 1226.8,243.5 1228.7,245.0 1230.7,241.0 1232.6,242.5 1234.5,241.5 1236.5,239.3 1240.9,236.0 1240.9,210.0 1240.9,240.0 1243.0,240.0 1246.2,241.0 1246.2,259.0 1251.0,265.0 1255.0,270.0 1259.0,271.0 1264.0,262.0 1268.0,258.0 1268.0,102.2 1268.0,277.0 1273.0,283.0 1278.0,284.2 1367.0,284.2 1369.5,278.5 1372.0,284.2 1377.0,287.5 1385.0,287.5 1387.0,284.5 1404.7,284.5 1407.0,288.5 1420.0,288.5 1423.0,282.0 1428.2,274.6 1431.0,280.0 1434.0,294.7 1466.0,294.7 1469.3,291.0 1472.0,294.7 1495.0,294.7 1497.7,291.0 1500.0,294.7 1510.0,295.0 1513.0,297.7 1516.0,297.7 1519.5,274.6 1520.0,292.0 1524.0,297.3 1559.3,297.3" fill="none" stroke="#0000ff" stroke-width="5.6" stroke-linejoin="round" stroke-linecap="round"/>
<polyline points="193.0,258.0 195.8,256.0 198.5,254.0 201.2,255.5 204.0,254.0 206.6,253.0 209.2,253.5 211.8,253.0 214.4,250.0 217.0,249.0 219.6,249.0 222.1,246.0 224.7,244.0 227.3,243.0 229.9,245.0 232.4,244.5 235.0,242.0 237.6,241.5 240.1,240.5 242.7,239.0 245.3,238.0 247.9,237.5 250.4,236.0 253.0,235.0 255.7,234.5 258.4,234.0 261.1,233.0 263.9,230.5 266.6,231.5 269.3,230.0 272.0,228.0 275.0,226.0 278.0,223.0 281.0,221.0 283.6,223.0 286.1,219.5 288.7,221.5 291.3,220.0 293.9,221.0 296.4,221.5 299.0,221.0" fill="none" stroke="#0000ff" stroke-width="9.5" stroke-linejoin="round" stroke-linecap="round"/>
<polyline points="314.0,215.0 317.0,214.0 320.0,217.0 323.0,219.0 326.0,217.5 329.0,217.0 332.0,216.0" fill="none" stroke="#0000ff" stroke-width="9.5" stroke-linejoin="round" stroke-linecap="round"/>
<polyline points="345.0,240.0 348.5,238.5 352.0,242.0 354.8,243.0 357.5,241.5 360.2,240.0 363.0,240.0 365.7,239.0 368.4,241.0 371.1,236.0 373.9,236.5 376.6,236.5 379.3,235.0 382.0,236.0 384.6,235.0 387.1,234.0 389.7,237.0 392.3,236.0 394.9,232.5 397.4,237.0 400.0,235.5 402.6,235.5 405.1,235.0 407.7,233.5 410.3,233.5 412.9,232.5 415.4,232.0 418.0,233.5 420.6,231.5 423.3,232.5 425.9,231.5 428.6,230.5 431.2,233.5 433.9,228.0 436.5,230.0 439.1,229.5 441.8,228.0 444.4,229.0 447.1,227.0 449.7,227.5 452.4,227.0 455.0,227.0 457.5,225.0 460.0,227.5 462.5,224.5 465.0,226.0 467.5,224.5 470.0,224.7 472.6,224.0 475.2,225.5 477.9,225.0 480.5,223.0 483.1,222.0 485.7,220.5 488.4,219.5 491.0,223.0 493.6,219.0 496.2,220.0 498.8,222.0 501.5,220.0 504.1,220.0 506.7,219.7 509.3,219.0 511.9,218.0 514.6,217.5 517.2,217.0 519.8,216.0 522.4,217.0 525.0,218.0 527.7,215.0 530.3,216.5 532.9,215.5 535.5,215.5 538.2,215.0 540.8,213.5 543.4,214.2 546.0,214.0 548.6,215.5 551.2,214.5 553.9,213.0 556.5,213.0 559.1,212.5 561.7,210.5 564.3,211.5 566.9,211.5 569.5,213.0 572.2,213.0 574.8,212.0 577.4,210.5 580.0,210.0 582.6,211.0 585.2,211.0 587.9,211.0 590.5,209.0 593.1,212.0 595.7,211.0 598.4,212.0 601.0,212.0 603.6,210.0 606.2,212.0 608.8,212.0 611.5,214.5 614.1,214.0 616.7,213.3 619.3,214.5 621.9,212.5 624.6,210.0 627.2,212.5 629.8,211.0 632.4,213.0 635.0,210.5 637.7,211.0 640.3,209.0 642.9,210.5 645.5,208.5 648.2,208.5 650.8,209.0 653.4,208.7 656.0,210.0 658.6,209.0 661.2,209.0 663.9,207.0 666.5,208.5 669.1,208.5 671.7,209.5 674.3,209.5 676.9,210.0 679.5,207.0 682.2,206.0 684.8,210.5 687.4,207.5 690.0,208.3 692.6,209.5 695.2,209.0 697.9,206.5 700.5,206.5 703.1,208.0 705.7,206.5 708.4,204.5 711.0,207.0 713.6,206.0 716.2,206.0 718.8,206.0 721.5,205.5 724.1,205.5 726.7,205.0 729.3,204.5 731.8,203.5 734.4,203.5 736.9,202.5 739.5,203.5 742.1,204.0 744.6,203.5 747.2,202.5 749.8,200.5 752.3,202.5 754.9,201.5 757.4,200.5 760.0,200.5 762.6,199.0 765.2,200.0 767.9,201.0 770.5,199.5 773.1,201.5 775.7,199.0 778.4,199.5 781.0,202.0 783.6,201.0 786.2,201.0 788.8,198.0 791.5,200.5 794.1,199.0 796.7,200.0 799.3,201.0 801.9,198.5 804.6,200.5 807.2,197.5 809.8,197.5 812.4,196.5 815.0,195.0 817.7,196.0 820.3,197.0 822.9,195.0 825.5,193.0 828.2,192.5 830.8,194.0 833.4,192.6 836.0,193.5 838.6,193.5 841.2,191.0 843.9,192.5 846.5,191.5 849.1,191.5 851.7,192.0 854.3,192.5 856.9,192.0 859.5,191.0 862.2,191.0 864.8,192.0 867.4,191.0 870.0,190.8 872.6,189.5 875.2,191.0 877.9,189.0 880.5,192.0 883.1,190.5 885.7,188.0 888.4,191.0 891.0,189.0 893.6,191.0 896.2,191.0 898.8,188.5 901.5,188.0 904.1,189.5 906.7,189.0 909.3,188.5 911.9,187.5 914.6,189.0 917.2,187.0 919.8,186.5 922.4,188.5 925.0,187.5 927.7,185.0 930.3,187.0 932.9,184.0 935.5,185.5 938.2,183.5 940.8,185.0 943.4,184.4 946.0,182.0 948.6,181.0 951.2,185.0 953.9,181.0 956.5,182.5 959.1,182.0 961.7,180.7 964.3,179.5 966.9,182.0 969.6,181.0 972.2,180.0 974.8,182.5 977.4,181.0 980.0,181.5 982.7,181.0 985.3,181.5 987.9,181.5 990.5,181.0 993.2,180.5 995.8,181.0 998.4,181.6 1000.9,182.5 1003.4,182.0 1005.9,182.0 1008.5,183.0 1011.0,182.5 1013.5,185.0 1016.0,183.0" fill="none" stroke="#0000ff" stroke-width="9.5" stroke-linejoin="round" stroke-linecap="round"/>
<polyline points="1029.6,190.0 1032.1,191.5 1034.7,190.5 1037.2,189.5 1039.8,189.5 1042.3,189.5 1044.9,191.5 1047.5,189.5 1050.0,190.7 1052.5,189.0 1055.1,190.0 1057.6,193.0 1060.1,191.5 1062.7,191.5 1065.2,193.0 1067.7,192.5 1070.2,193.5 1072.8,193.5 1075.3,194.6 1078.2,196.0 1081.1,196.0 1084.0,197.0 1086.9,197.0 1089.8,198.5 1092.7,200.5 1095.3,199.5 1097.9,199.0 1100.5,196.0 1103.1,196.5 1105.7,195.0 1108.3,192.7 1111.2,196.5 1114.2,201.5 1117.1,203.0 1120.0,206.3 1122.9,206.5 1125.8,206.5 1128.7,205.5 1131.6,205.5 1134.5,205.5 1137.4,207.3 1140.2,210.5 1143.0,210.5 1145.8,209.5 1148.5,212.0 1151.3,215.5 1154.1,217.0 1156.9,216.0 1159.7,217.0 1162.4,215.5 1165.2,214.0 1168.0,215.0 1170.8,215.5 1173.5,214.0 1176.3,214.0 1179.1,215.5 1181.8,218.0 1184.6,216.5 1187.4,218.5 1190.2,220.0 1192.9,220.5 1195.7,221.8 1198.3,220.0 1200.9,217.0 1203.5,217.0" fill="none" stroke="#0000ff" stroke-width="9.5" stroke-linejoin="round" stroke-linecap="round"/>
<polyline points="1219.0,238.3 1222.2,240.0 1225.5,242.0 1228.7,245.0 1231.3,241.5 1233.9,242.5 1236.5,239.3" fill="none" stroke="#0000ff" stroke-width="9.5" stroke-linejoin="round" stroke-linecap="round"/>
<polyline points="1273.0,283.0 1278.0,284.2 1367.0,284.2" fill="none" stroke="#0000ff" stroke-width="8.8" stroke-linejoin="round" stroke-linecap="round"/>
<polyline points="1372.0,284.2 1377.0,287.5 1385.0,287.5 1387.0,284.5 1404.7,284.5 1407.0,288.5 1420.0,288.5 1423.0,282.0" fill="none" stroke="#0000ff" stroke-width="7.0" stroke-linejoin="round" stroke-linecap="round"/>
<polyline points="1434.0,294.7 1466.0,294.7 1469.3,291.0 1472.0,294.7 1495.0,294.7 1497.7,291.0 1500.0,294.7 1510.0,295.0 1513.0,297.7 1516.0,297.7" fill="none" stroke="#0000ff" stroke-width="5.4" stroke-linejoin="round" stroke-linecap="round"/>
<polyline points="1524.0,297.3 1559.3,297.3" fill="none" stroke="#0000ff" stroke-width="5.8" stroke-linejoin="round" stroke-linecap="round"/>
<g stroke="#000" stroke-linecap="round" fill="none">
<rect x="158" y="32.7" width="1442.8" height="937.8" stroke-width="5.4" stroke-linecap="butt" stroke-linejoin="round"/>
<line x1="158" y1="972" x2="158" y2="991" stroke-width="6.8" stroke-linecap="butt"/>
<line x1="254" y1="34" x2="254" y2="43.7" stroke-width="6.0" stroke-linecap="butt"/>
<line x1="254" y1="972" x2="254" y2="982" stroke-width="6.0" stroke-linecap="butt"/>
<line x1="356.4" y1="34" x2="356.4" y2="52.6" stroke-width="6.8" stroke-linecap="butt"/>
<line x1="356.4" y1="972" x2="356.4" y2="991" stroke-width="6.8" stroke-linecap="butt"/>
<line x1="452.7" y1="34" x2="452.7" y2="43.7" stroke-width="6.0" stroke-linecap="butt"/>
<line x1="452.7" y1="972" x2="452.7" y2="982" stroke-width="6.0" stroke-linecap="butt"/>
<line x1="554.6" y1="34" x2="554.6" y2="52.6" stroke-width="6.8" stroke-linecap="butt"/>
<line x1="554.6" y1="972" x2="554.6" y2="991" stroke-width="6.8" stroke-linecap="butt"/>
<line x1="656.8" y1="34" x2="656.8" y2="43.7" stroke-width="6.0" stroke-linecap="butt"/>
<line x1="656.8" y1="972" x2="656.8" y2="982" stroke-width="6.0" stroke-linecap="butt"/>
<line x1="753.1" y1="34" x2="753.1" y2="52.6" stroke-width="6.8" stroke-linecap="butt"/>
<line x1="753.1" y1="972" x2="753.1" y2="991" stroke-width="6.8" stroke-linecap="butt"/>
<line x1="854.8" y1="34" x2="854.8" y2="43.7" stroke-width="6.0" stroke-linecap="butt"/>
<line x1="854.8" y1="972" x2="854.8" y2="982" stroke-width="6.0" stroke-linecap="butt"/>
<line x1="951.2" y1="34" x2="951.2" y2="52.6" stroke-width="6.8" stroke-linecap="butt"/>
<line x1="951.2" y1="972" x2="951.2" y2="991" stroke-width="6.8" stroke-linecap="butt"/>
<line x1="1053.2" y1="34" x2="1053.2" y2="43.7" stroke-width="6.0" stroke-linecap="butt"/>
<line x1="1053.2" y1="972" x2="1053.2" y2="982" stroke-width="6.0" stroke-linecap="butt"/>
<line x1="1155.1" y1="34" x2="1155.1" y2="52.6" stroke-width="6.8" stroke-linecap="butt"/>
<line x1="1155.1" y1="972" x2="1155.1" y2="991" stroke-width="6.8" stroke-linecap="butt"/>
<line x1="1251.7" y1="34" x2="1251.7" y2="43.7" stroke-width="6.0" stroke-linecap="butt"/>
<line x1="1251.7" y1="972" x2="1251.7" y2="982" stroke-width="6.0" stroke-linecap="butt"/>
<line x1="1353.6" y1="34" x2="1353.6" y2="52.6" stroke-width="6.8" stroke-linecap="butt"/>
<line x1="1353.6" y1="972" x2="1353.6" y2="991" stroke-width="6.8" stroke-linecap="butt"/>
<line x1="1450.2" y1="34" x2="1450.2" y2="43.7" stroke-width="6.0" stroke-linecap="butt"/>
<line x1="1450.2" y1="972" x2="1450.2" y2="982" stroke-width="6.0" stroke-linecap="butt"/>
<line x1="1551.7" y1="34" x2="1551.7" y2="52.6" stroke-width="6.8" stroke-linecap="butt"/>
<line x1="1551.7" y1="972" x2="1551.7" y2="991" stroke-width="6.8" stroke-linecap="butt"/>
<line x1="147" y1="157.5" x2="156" y2="157.5" stroke-width="5.4"/>
<line x1="1591" y1="157.5" x2="1600" y2="157.5" stroke-width="5.4"/>
<line x1="136" y1="316.5" x2="156" y2="316.5" stroke-width="5.4"/>
<line x1="1580" y1="316.5" x2="1600" y2="316.5" stroke-width="5.4"/>
<line x1="147" y1="476" x2="156" y2="476" stroke-width="5.4"/>
<line x1="1591" y1="476" x2="1600" y2="476" stroke-width="5.4"/>
<line x1="136" y1="631" x2="156" y2="631" stroke-width="5.4"/>
<line x1="1580" y1="631" x2="1600" y2="631" stroke-width="5.4"/>
<line x1="147" y1="790" x2="156" y2="790" stroke-width="5.4"/>
<line x1="1591" y1="790" x2="1600" y2="790" stroke-width="5.4"/>
<line x1="136" y1="945.3" x2="156" y2="945.3" stroke-width="5.4"/>
<line x1="1580" y1="945.3" x2="1600" y2="945.3" stroke-width="5.4"/>
<polyline points="1107,166 1107,136 1252,136 1252,166" stroke-width="5.4" stroke-linejoin="miter"/>
</g>
<text transform="scale(0.93 1)" x="263.27 292.55 315.88 331.74" y="152.2" style="font-family:'Liberation Sans', Arial, sans-serif;font-size:25.5px;font-weight:bold;font-style:italic" fill="#000">Ge2p</text>
<text transform="scale(0.93 1)" x="355.44 366.17 373.36" y="139.9" style="font-family:'Liberation Sans', Arial, sans-serif;font-size:15.5px;font-weight:bold;font-style:italic" fill="#000">1/2</text>
<text transform="scale(0.93 1)" x="384.13 413.19 430.94 453.25" y="187.0" style="font-family:'Liberation Sans', Arial, sans-serif;font-size:25.5px;font-weight:bold;font-style:italic" fill="#000">Ge2p</text>
<text transform="scale(0.93 1)" x="472.35 487.67 493.25" y="175" style="font-family:'Liberation Sans', Arial, sans-serif;font-size:15.5px;font-weight:bold;font-style:italic" fill="#000">3/2</text>
<text transform="scale(0.93 1)" x="1076.50 1100.16 1123.37" y="126.5" style="font-family:'Liberation Sans', Arial, sans-serif;font-size:25.5px;font-weight:bold;font-style:italic" fill="#000">O1s</text>
<text transform="scale(0.93 1)" x="1330.15 1354.89 1369.93" y="76" style="font-family:'Liberation Sans', Arial, sans-serif;font-size:25.5px;font-weight:bold;font-style:italic" fill="#000">C1s</text>
<text transform="scale(1.08 1)" x="1210.01 1233.27 1248.17 1262.80 1278.41 1309.20 1333.02 1355.64 1387.09 1409.99 1437.30" y="139.5" style="font-family:'Liberation Sans', Arial, sans-serif;font-size:36.5px;font-weight:bold;font-style:italic" fill="#000">air-exposed</text>
<text transform="scale(0.93 1)" x="1433.49 1457.07 1479.80 1496.81" y="255.4" style="font-family:'Liberation Sans', Arial, sans-serif;font-size:25.5px;font-weight:bold;font-style:italic" fill="#000">Ge3s</text>
<text transform="scale(0.93 1)" x="1501.87 1531.37 1548.19 1571.96" y="230.8" style="font-family:'Liberation Sans', Arial, sans-serif;font-size:25.5px;font-weight:bold;font-style:italic" fill="#000">Ge3p</text>
<text transform="scale(0.93 1)" x="1600.91 1628.79 1644.75 1669.82" y="251.5" style="font-family:'Liberation Sans', Arial, sans-serif;font-size:25.5px;font-weight:bold;font-style:italic" fill="#000">Ge3d</text>
<text transform="scale(0.93 1)" x="309.62 332.13 356.76 378.48" y="863" style="font-family:'Liberation Sans', Arial, sans-serif;font-size:25.5px;font-weight:bold;font-style:italic" fill="#000">CKLL</text>
<text transform="scale(0.93 1)" x="580.05 608.48 637.08 653.85" y="875.6" style="font-family:'Liberation Sans', Arial, sans-serif;font-size:25.5px;font-weight:bold;font-style:italic" fill="#000">OKLL</text>
<text transform="scale(0.93 1)" x="188.54 223.21" y="217.6" style="font-family:'Liberation Sans', Arial, sans-serif;font-size:34.4px;font-weight:bold;font-style:italic" fill="#0000ff">G5</text>
<text transform="scale(0.93 1)" x="188.54 229.28" y="359" style="font-family:'Liberation Sans', Arial, sans-serif;font-size:34.4px;font-weight:bold;font-style:italic" fill="#ff0000">G4</text>
<text transform="scale(0.93 1)" x="188.54 222.96" y="526.4" style="font-family:'Liberation Sans', Arial, sans-serif;font-size:34.4px;font-weight:bold;font-style:italic" fill="#00ff00">G3</text>
<text transform="scale(0.93 1)" x="188.54 224.09" y="652.8" style="font-family:'Liberation Sans', Arial, sans-serif;font-size:34.4px;font-weight:bold;font-style:italic" fill="#00ffff">G2</text>
<text transform="scale(0.93 1)" x="188.54 230.49" y="768.4" style="font-family:'Liberation Sans', Arial, sans-serif;font-size:34.4px;font-weight:bold;font-style:italic" fill="#ff00ff">G1</text>
<text transform="scale(0.93 1)" x="188.54 228.14" y="901.5" style="font-family:'Liberation Sans', Arial, sans-serif;font-size:34.4px;font-weight:bold;font-style:italic" fill="#000000">G0</text>
<text transform="scale(0.93 1)" x="110.44" y="1031" style="font-family:'Liberation Sans', Arial, sans-serif;font-size:40.5px" fill="#000">1</text>
<text transform="scale(0.93 1)" x="141.33 170.73 200.13" y="1031" style="font-family:'Liberation Sans', Arial, sans-serif;font-size:40.5px" fill="#000">400</text>
<text transform="scale(0.93 1)" x="324.96" y="1031" style="font-family:'Liberation Sans', Arial, sans-serif;font-size:40.5px" fill="#000">1</text>
<text transform="scale(0.93 1)" x="353.66 383.13 412.61" y="1031" style="font-family:'Liberation Sans', Arial, sans-serif;font-size:40.5px" fill="#000">200</text>
<text transform="scale(0.93 1)" x="536.79" y="1031" style="font-family:'Liberation Sans', Arial, sans-serif;font-size:40.5px" fill="#000">1</text>
<text transform="scale(0.93 1)" x="567.77 597.50 627.23" y="1031" style="font-family:'Liberation Sans', Arial, sans-serif;font-size:40.5px" fill="#000">000</text>
<text transform="scale(0.93 1)" x="769.53 798.38 827.23" y="1031" style="font-family:'Liberation Sans', Arial, sans-serif;font-size:40.5px" fill="#000">800</text>
<text transform="scale(0.93 1)" x="981.06 1010.97 1040.89" y="1031" style="font-family:'Liberation Sans', Arial, sans-serif;font-size:40.5px" fill="#000">600</text>
<text transform="scale(0.93 1)" x="1195.09 1225.25 1255.40" y="1031" style="font-family:'Liberation Sans', Arial, sans-serif;font-size:40.5px" fill="#000">400</text>
<text transform="scale(0.93 1)" x="1407.53 1437.38 1467.23" y="1031" style="font-family:'Liberation Sans', Arial, sans-serif;font-size:40.5px" fill="#000">200</text>
<text transform="scale(0.93 1)" x="1650.68" y="1031" style="font-family:'Liberation Sans', Arial, sans-serif;font-size:40.5px" fill="#000">0</text>
<text transform="scale(0.93 1)" x="660.50 700.85 719.41 754.33 789.25 807.81 842.73 877.65 898.93 933.85 968.78 1003.70 1027.69 1062.61 1094.78 1116.06 1140.05 1174.97 1215.32" y="1104.2" style="font-family:'Liberation Sans', Arial, sans-serif;font-size:49px" fill="#000">Binding energy (eV)</text>
<text transform="translate(50.9 700) rotate(-90) scale(0.93 1)" x="-0.44 13.74 42.27 55.98 88.04 117.35 143.28 153.02 169.02 196.75 208.90 226.84 254.81 273.40 301.12 314.56 343.70 376.75 403.39 411.52 432.72 455.63" y="0" style="font-family:'Liberation Sans', Arial, sans-serif;font-size:49px" fill="#000">Intensity (arb.uunits)</text>
</svg>
</body></html>
